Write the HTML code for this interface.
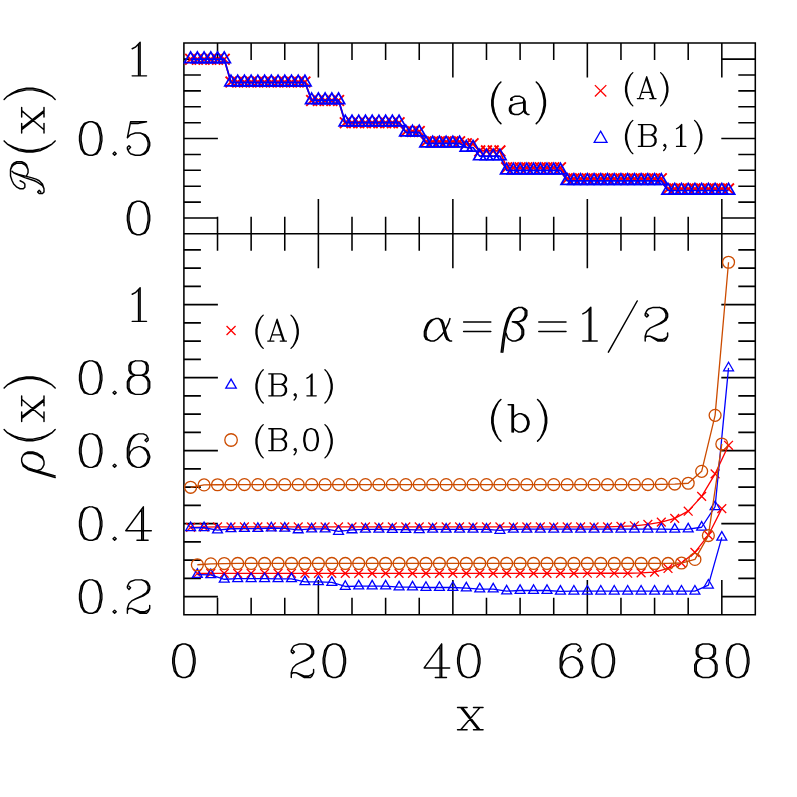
<!DOCTYPE html>
<html><head><meta charset="utf-8"><title>chart</title>
<style>html,body{margin:0;padding:0;background:#fff;font-family:"Liberation Sans",sans-serif}svg{display:block}</style></head>
<body>
<svg width="797" height="797" viewBox="0 0 797 797">
<rect width="797" height="797" fill="#fff"/>
<path d="M217.52 43 L217.52 60M217.52 216.7 L217.52 250.7M217.52 614.7 L217.52 597.7M251.14 43 L251.14 60M251.14 216.7 L251.14 250.7M251.14 614.7 L251.14 597.7M284.76 43 L284.76 60M284.76 216.7 L284.76 250.7M284.76 614.7 L284.76 597.7M318.38 43 L318.38 77.6M318.38 199.1 L318.38 268.3M318.38 614.7 L318.38 580.1M352 43 L352 60M352 216.7 L352 250.7M352 614.7 L352 597.7M385.62 43 L385.62 60M385.62 216.7 L385.62 250.7M385.62 614.7 L385.62 597.7M419.24 43 L419.24 60M419.24 216.7 L419.24 250.7M419.24 614.7 L419.24 597.7M452.86 43 L452.86 77.6M452.86 199.1 L452.86 268.3M452.86 614.7 L452.86 580.1M486.48 43 L486.48 60M486.48 216.7 L486.48 250.7M486.48 614.7 L486.48 597.7M520.1 43 L520.1 60M520.1 216.7 L520.1 250.7M520.1 614.7 L520.1 597.7M553.72 43 L553.72 60M553.72 216.7 L553.72 250.7M553.72 614.7 L553.72 597.7M587.34 43 L587.34 77.6M587.34 199.1 L587.34 268.3M587.34 614.7 L587.34 580.1M620.96 43 L620.96 60M620.96 216.7 L620.96 250.7M620.96 614.7 L620.96 597.7M654.58 43 L654.58 60M654.58 216.7 L654.58 250.7M654.58 614.7 L654.58 597.7M688.2 43 L688.2 60M688.2 216.7 L688.2 250.7M688.2 614.7 L688.2 597.7M721.82 43 L721.82 77.6M721.82 199.1 L721.82 268.3M721.82 614.7 L721.82 580.1M183.9 218 L217.9 218M755.3 218 L721.3 218M183.9 202.11 L200.9 202.11M755.3 202.11 L738.3 202.11M183.9 186.22 L200.9 186.22M755.3 186.22 L738.3 186.22M183.9 170.33 L200.9 170.33M755.3 170.33 L738.3 170.33M183.9 154.44 L200.9 154.44M755.3 154.44 L738.3 154.44M183.9 138.55 L217.9 138.55M755.3 138.55 L721.3 138.55M183.9 122.66 L200.9 122.66M755.3 122.66 L738.3 122.66M183.9 106.77 L200.9 106.77M755.3 106.77 L738.3 106.77M183.9 90.88 L200.9 90.88M755.3 90.88 L738.3 90.88M183.9 74.99 L200.9 74.99M755.3 74.99 L738.3 74.99M183.9 59.1 L217.9 59.1M755.3 59.1 L721.3 59.1M183.9 596.6 L217.9 596.6M755.3 596.6 L721.3 596.6M183.9 578.35 L200.9 578.35M755.3 578.35 L738.3 578.35M183.9 560.1 L200.9 560.1M755.3 560.1 L738.3 560.1M183.9 541.85 L200.9 541.85M755.3 541.85 L738.3 541.85M183.9 523.6 L217.9 523.6M755.3 523.6 L721.3 523.6M183.9 505.35 L200.9 505.35M755.3 505.35 L738.3 505.35M183.9 487.1 L200.9 487.1M755.3 487.1 L738.3 487.1M183.9 468.85 L200.9 468.85M755.3 468.85 L738.3 468.85M183.9 450.6 L217.9 450.6M755.3 450.6 L721.3 450.6M183.9 432.35 L200.9 432.35M755.3 432.35 L738.3 432.35M183.9 414.1 L200.9 414.1M755.3 414.1 L738.3 414.1M183.9 395.85 L200.9 395.85M755.3 395.85 L738.3 395.85M183.9 377.6 L217.9 377.6M755.3 377.6 L721.3 377.6M183.9 359.35 L200.9 359.35M755.3 359.35 L738.3 359.35M183.9 341.1 L200.9 341.1M755.3 341.1 L738.3 341.1M183.9 322.85 L200.9 322.85M755.3 322.85 L738.3 322.85M183.9 304.6 L217.9 304.6M755.3 304.6 L721.3 304.6M183.9 286.35 L200.9 286.35M755.3 286.35 L738.3 286.35M183.9 268.1 L200.9 268.1M755.3 268.1 L738.3 268.1M183.9 249.85 L200.9 249.85M755.3 249.85 L738.3 249.85" fill="none" stroke="#000" stroke-width="1.55"/>
<path d="M183.9 43.0 H755.3 V614.7 H183.9 Z M183.9 233.7 H755.3" fill="none" stroke="#000" stroke-width="1.55" stroke-linejoin="miter"/>
<g><path d="M190.62 59.2 L197.35 59.2 L204.07 59.2 L210.8 59.2 L217.52 59.2 L224.24 59.2 L230.97 82.05 L237.69 82.05 L244.42 82.05 L251.14 82.05 L257.86 82.05 L264.59 82.05 L271.31 82.05 L278.04 82.05 L284.76 82.05 L291.48 82.05 L298.21 82.05 L304.93 82.05 L311.66 100.45 L318.38 100.45 L325.1 100.45 L331.83 100.45 L338.55 100.45 L345.28 122.8 L352 122.8 L358.72 122.8 L365.45 122.8 L372.17 122.8 L378.9 122.8 L385.62 122.8 L392.34 122.8 L399.07 122.8 L405.79 131.5 L412.52 131.5 L419.24 131.5 L425.96 141.7 L432.69 141.7 L439.41 141.7 L446.14 141.7 L452.86 141.7 L459.58 141.7 L466.31 143.8 L473.03 143.8 L479.76 150.9 L486.48 150.9 L493.2 150.9 L499.93 150.9 L506.65 167.7 L513.38 167.7 L520.1 167.7 L526.82 167.7 L533.55 167.7 L540.27 167.7 L547 167.7 L553.72 167.7 L560.44 167.7 L567.17 178.7 L573.89 178.7 L580.62 178.7 L587.34 178.7 L594.06 178.7 L600.79 178.7 L607.51 178.7 L614.24 178.7 L620.96 178.7 L627.68 178.7 L634.41 178.7 L641.13 178.7 L647.86 178.7 L654.58 178.7 L661.3 178.7 L668.03 188.9 L674.75 188.9 L681.48 188.9 L688.2 188.9 L694.92 188.9 L701.65 188.9 L708.37 188.9 L715.1 188.9 L721.82 188.9 L728.54 188.9" fill="none" stroke="#ff0000" stroke-width="1.7" stroke-linejoin="round"/><path d="M185.22 53.8 L196.02 64.6 M185.22 64.6 L196.02 53.8" fill="none" stroke="#ff0000" stroke-width="1.9"/><path d="M191.95 53.8 L202.75 64.6 M191.95 64.6 L202.75 53.8" fill="none" stroke="#ff0000" stroke-width="1.9"/><path d="M198.67 53.8 L209.47 64.6 M198.67 64.6 L209.47 53.8" fill="none" stroke="#ff0000" stroke-width="1.9"/><path d="M205.4 53.8 L216.2 64.6 M205.4 64.6 L216.2 53.8" fill="none" stroke="#ff0000" stroke-width="1.9"/><path d="M212.12 53.8 L222.92 64.6 M212.12 64.6 L222.92 53.8" fill="none" stroke="#ff0000" stroke-width="1.9"/><path d="M218.84 53.8 L229.64 64.6 M218.84 64.6 L229.64 53.8" fill="none" stroke="#ff0000" stroke-width="1.9"/><path d="M225.57 76.65 L236.37 87.45 M225.57 87.45 L236.37 76.65" fill="none" stroke="#ff0000" stroke-width="1.9"/><path d="M232.29 76.65 L243.09 87.45 M232.29 87.45 L243.09 76.65" fill="none" stroke="#ff0000" stroke-width="1.9"/><path d="M239.02 76.65 L249.82 87.45 M239.02 87.45 L249.82 76.65" fill="none" stroke="#ff0000" stroke-width="1.9"/><path d="M245.74 76.65 L256.54 87.45 M245.74 87.45 L256.54 76.65" fill="none" stroke="#ff0000" stroke-width="1.9"/><path d="M252.46 76.65 L263.26 87.45 M252.46 87.45 L263.26 76.65" fill="none" stroke="#ff0000" stroke-width="1.9"/><path d="M259.19 76.65 L269.99 87.45 M259.19 87.45 L269.99 76.65" fill="none" stroke="#ff0000" stroke-width="1.9"/><path d="M265.91 76.65 L276.71 87.45 M265.91 87.45 L276.71 76.65" fill="none" stroke="#ff0000" stroke-width="1.9"/><path d="M272.64 76.65 L283.44 87.45 M272.64 87.45 L283.44 76.65" fill="none" stroke="#ff0000" stroke-width="1.9"/><path d="M279.36 76.65 L290.16 87.45 M279.36 87.45 L290.16 76.65" fill="none" stroke="#ff0000" stroke-width="1.9"/><path d="M286.08 76.65 L296.88 87.45 M286.08 87.45 L296.88 76.65" fill="none" stroke="#ff0000" stroke-width="1.9"/><path d="M292.81 76.65 L303.61 87.45 M292.81 87.45 L303.61 76.65" fill="none" stroke="#ff0000" stroke-width="1.9"/><path d="M299.53 76.65 L310.33 87.45 M299.53 87.45 L310.33 76.65" fill="none" stroke="#ff0000" stroke-width="1.9"/><path d="M306.26 95.05 L317.06 105.85 M306.26 105.85 L317.06 95.05" fill="none" stroke="#ff0000" stroke-width="1.9"/><path d="M312.98 95.05 L323.78 105.85 M312.98 105.85 L323.78 95.05" fill="none" stroke="#ff0000" stroke-width="1.9"/><path d="M319.7 95.05 L330.5 105.85 M319.7 105.85 L330.5 95.05" fill="none" stroke="#ff0000" stroke-width="1.9"/><path d="M326.43 95.05 L337.23 105.85 M326.43 105.85 L337.23 95.05" fill="none" stroke="#ff0000" stroke-width="1.9"/><path d="M333.15 95.05 L343.95 105.85 M333.15 105.85 L343.95 95.05" fill="none" stroke="#ff0000" stroke-width="1.9"/><path d="M339.88 117.4 L350.68 128.2 M339.88 128.2 L350.68 117.4" fill="none" stroke="#ff0000" stroke-width="1.9"/><path d="M346.6 117.4 L357.4 128.2 M346.6 128.2 L357.4 117.4" fill="none" stroke="#ff0000" stroke-width="1.9"/><path d="M353.32 117.4 L364.12 128.2 M353.32 128.2 L364.12 117.4" fill="none" stroke="#ff0000" stroke-width="1.9"/><path d="M360.05 117.4 L370.85 128.2 M360.05 128.2 L370.85 117.4" fill="none" stroke="#ff0000" stroke-width="1.9"/><path d="M366.77 117.4 L377.57 128.2 M366.77 128.2 L377.57 117.4" fill="none" stroke="#ff0000" stroke-width="1.9"/><path d="M373.5 117.4 L384.3 128.2 M373.5 128.2 L384.3 117.4" fill="none" stroke="#ff0000" stroke-width="1.9"/><path d="M380.22 117.4 L391.02 128.2 M380.22 128.2 L391.02 117.4" fill="none" stroke="#ff0000" stroke-width="1.9"/><path d="M386.94 117.4 L397.74 128.2 M386.94 128.2 L397.74 117.4" fill="none" stroke="#ff0000" stroke-width="1.9"/><path d="M393.67 117.4 L404.47 128.2 M393.67 128.2 L404.47 117.4" fill="none" stroke="#ff0000" stroke-width="1.9"/><path d="M400.39 126.1 L411.19 136.9 M400.39 136.9 L411.19 126.1" fill="none" stroke="#ff0000" stroke-width="1.9"/><path d="M407.12 126.1 L417.92 136.9 M407.12 136.9 L417.92 126.1" fill="none" stroke="#ff0000" stroke-width="1.9"/><path d="M413.84 126.1 L424.64 136.9 M413.84 136.9 L424.64 126.1" fill="none" stroke="#ff0000" stroke-width="1.9"/><path d="M420.56 136.3 L431.36 147.1 M420.56 147.1 L431.36 136.3" fill="none" stroke="#ff0000" stroke-width="1.9"/><path d="M427.29 136.3 L438.09 147.1 M427.29 147.1 L438.09 136.3" fill="none" stroke="#ff0000" stroke-width="1.9"/><path d="M434.01 136.3 L444.81 147.1 M434.01 147.1 L444.81 136.3" fill="none" stroke="#ff0000" stroke-width="1.9"/><path d="M440.74 136.3 L451.54 147.1 M440.74 147.1 L451.54 136.3" fill="none" stroke="#ff0000" stroke-width="1.9"/><path d="M447.46 136.3 L458.26 147.1 M447.46 147.1 L458.26 136.3" fill="none" stroke="#ff0000" stroke-width="1.9"/><path d="M454.18 136.3 L464.98 147.1 M454.18 147.1 L464.98 136.3" fill="none" stroke="#ff0000" stroke-width="1.9"/><path d="M460.91 138.4 L471.71 149.2 M460.91 149.2 L471.71 138.4" fill="none" stroke="#ff0000" stroke-width="1.9"/><path d="M467.63 138.4 L478.43 149.2 M467.63 149.2 L478.43 138.4" fill="none" stroke="#ff0000" stroke-width="1.9"/><path d="M474.36 145.5 L485.16 156.3 M474.36 156.3 L485.16 145.5" fill="none" stroke="#ff0000" stroke-width="1.9"/><path d="M481.08 145.5 L491.88 156.3 M481.08 156.3 L491.88 145.5" fill="none" stroke="#ff0000" stroke-width="1.9"/><path d="M487.8 145.5 L498.6 156.3 M487.8 156.3 L498.6 145.5" fill="none" stroke="#ff0000" stroke-width="1.9"/><path d="M494.53 145.5 L505.33 156.3 M494.53 156.3 L505.33 145.5" fill="none" stroke="#ff0000" stroke-width="1.9"/><path d="M501.25 162.3 L512.05 173.1 M501.25 173.1 L512.05 162.3" fill="none" stroke="#ff0000" stroke-width="1.9"/><path d="M507.98 162.3 L518.78 173.1 M507.98 173.1 L518.78 162.3" fill="none" stroke="#ff0000" stroke-width="1.9"/><path d="M514.7 162.3 L525.5 173.1 M514.7 173.1 L525.5 162.3" fill="none" stroke="#ff0000" stroke-width="1.9"/><path d="M521.42 162.3 L532.22 173.1 M521.42 173.1 L532.22 162.3" fill="none" stroke="#ff0000" stroke-width="1.9"/><path d="M528.15 162.3 L538.95 173.1 M528.15 173.1 L538.95 162.3" fill="none" stroke="#ff0000" stroke-width="1.9"/><path d="M534.87 162.3 L545.67 173.1 M534.87 173.1 L545.67 162.3" fill="none" stroke="#ff0000" stroke-width="1.9"/><path d="M541.6 162.3 L552.4 173.1 M541.6 173.1 L552.4 162.3" fill="none" stroke="#ff0000" stroke-width="1.9"/><path d="M548.32 162.3 L559.12 173.1 M548.32 173.1 L559.12 162.3" fill="none" stroke="#ff0000" stroke-width="1.9"/><path d="M555.04 162.3 L565.84 173.1 M555.04 173.1 L565.84 162.3" fill="none" stroke="#ff0000" stroke-width="1.9"/><path d="M561.77 173.3 L572.57 184.1 M561.77 184.1 L572.57 173.3" fill="none" stroke="#ff0000" stroke-width="1.9"/><path d="M568.49 173.3 L579.29 184.1 M568.49 184.1 L579.29 173.3" fill="none" stroke="#ff0000" stroke-width="1.9"/><path d="M575.22 173.3 L586.02 184.1 M575.22 184.1 L586.02 173.3" fill="none" stroke="#ff0000" stroke-width="1.9"/><path d="M581.94 173.3 L592.74 184.1 M581.94 184.1 L592.74 173.3" fill="none" stroke="#ff0000" stroke-width="1.9"/><path d="M588.66 173.3 L599.46 184.1 M588.66 184.1 L599.46 173.3" fill="none" stroke="#ff0000" stroke-width="1.9"/><path d="M595.39 173.3 L606.19 184.1 M595.39 184.1 L606.19 173.3" fill="none" stroke="#ff0000" stroke-width="1.9"/><path d="M602.11 173.3 L612.91 184.1 M602.11 184.1 L612.91 173.3" fill="none" stroke="#ff0000" stroke-width="1.9"/><path d="M608.84 173.3 L619.64 184.1 M608.84 184.1 L619.64 173.3" fill="none" stroke="#ff0000" stroke-width="1.9"/><path d="M615.56 173.3 L626.36 184.1 M615.56 184.1 L626.36 173.3" fill="none" stroke="#ff0000" stroke-width="1.9"/><path d="M622.28 173.3 L633.08 184.1 M622.28 184.1 L633.08 173.3" fill="none" stroke="#ff0000" stroke-width="1.9"/><path d="M629.01 173.3 L639.81 184.1 M629.01 184.1 L639.81 173.3" fill="none" stroke="#ff0000" stroke-width="1.9"/><path d="M635.73 173.3 L646.53 184.1 M635.73 184.1 L646.53 173.3" fill="none" stroke="#ff0000" stroke-width="1.9"/><path d="M642.46 173.3 L653.26 184.1 M642.46 184.1 L653.26 173.3" fill="none" stroke="#ff0000" stroke-width="1.9"/><path d="M649.18 173.3 L659.98 184.1 M649.18 184.1 L659.98 173.3" fill="none" stroke="#ff0000" stroke-width="1.9"/><path d="M655.9 173.3 L666.7 184.1 M655.9 184.1 L666.7 173.3" fill="none" stroke="#ff0000" stroke-width="1.9"/><path d="M662.63 183.5 L673.43 194.3 M662.63 194.3 L673.43 183.5" fill="none" stroke="#ff0000" stroke-width="1.9"/><path d="M669.35 183.5 L680.15 194.3 M669.35 194.3 L680.15 183.5" fill="none" stroke="#ff0000" stroke-width="1.9"/><path d="M676.08 183.5 L686.88 194.3 M676.08 194.3 L686.88 183.5" fill="none" stroke="#ff0000" stroke-width="1.9"/><path d="M682.8 183.5 L693.6 194.3 M682.8 194.3 L693.6 183.5" fill="none" stroke="#ff0000" stroke-width="1.9"/><path d="M689.52 183.5 L700.32 194.3 M689.52 194.3 L700.32 183.5" fill="none" stroke="#ff0000" stroke-width="1.9"/><path d="M696.25 183.5 L707.05 194.3 M696.25 194.3 L707.05 183.5" fill="none" stroke="#ff0000" stroke-width="1.9"/><path d="M702.97 183.5 L713.77 194.3 M702.97 194.3 L713.77 183.5" fill="none" stroke="#ff0000" stroke-width="1.9"/><path d="M709.7 183.5 L720.5 194.3 M709.7 194.3 L720.5 183.5" fill="none" stroke="#ff0000" stroke-width="1.9"/><path d="M716.42 183.5 L727.22 194.3 M716.42 194.3 L727.22 183.5" fill="none" stroke="#ff0000" stroke-width="1.9"/><path d="M723.14 183.5 L733.94 194.3 M723.14 194.3 L733.94 183.5" fill="none" stroke="#ff0000" stroke-width="1.9"/><path d="M190.62 59.1 L197.35 59.1 L204.07 59.1 L210.8 59.1 L217.52 59.1 L224.24 59.1 L230.97 82.3 L237.69 82.3 L244.42 82.3 L251.14 82.3 L257.86 82.3 L264.59 82.3 L271.31 82.3 L278.04 82.3 L284.76 82.3 L291.48 82.3 L298.21 82.3 L304.93 82.3 L311.66 100.15 L318.38 100.15 L325.1 100.15 L331.83 100.15 L338.55 100.15 L345.28 122.3 L352 122.3 L358.72 122.3 L365.45 122.3 L372.17 122.3 L378.9 122.3 L385.62 122.3 L392.34 122.3 L399.07 122.3 L405.79 132.4 L412.52 132.4 L419.24 132.4 L425.96 143.4 L432.69 143.4 L439.41 143.4 L446.14 143.4 L452.86 143.4 L459.58 143.4 L466.31 147.5 L473.03 147.5 L479.76 156.2 L486.48 156.2 L493.2 156.2 L499.93 156.2 L506.65 170.4 L513.38 170.4 L520.1 170.4 L526.82 170.4 L533.55 170.4 L540.27 170.4 L547 170.4 L553.72 170.4 L560.44 170.4 L567.17 180.9 L573.89 180.9 L580.62 180.9 L587.34 180.9 L594.06 180.9 L600.79 180.9 L607.51 180.9 L614.24 180.9 L620.96 180.9 L627.68 180.9 L634.41 180.9 L641.13 180.9 L647.86 180.9 L654.58 180.9 L661.3 180.9 L668.03 190.5 L674.75 190.5 L681.48 190.5 L688.2 190.5 L694.92 190.5 L701.65 190.5 L708.37 190.5 L715.1 190.5 L721.82 190.5 L728.54 190.5" fill="none" stroke="#0000ff" stroke-width="1.7" stroke-linejoin="round"/><path d="M190.62 52 L196.77 62.65 L184.48 62.65 Z" fill="none" stroke="#0000ff" stroke-width="1.7" stroke-linejoin="miter"/><path d="M197.35 52 L203.5 62.65 L191.2 62.65 Z" fill="none" stroke="#0000ff" stroke-width="1.7" stroke-linejoin="miter"/><path d="M204.07 52 L210.22 62.65 L197.92 62.65 Z" fill="none" stroke="#0000ff" stroke-width="1.7" stroke-linejoin="miter"/><path d="M210.8 52 L216.94 62.65 L204.65 62.65 Z" fill="none" stroke="#0000ff" stroke-width="1.7" stroke-linejoin="miter"/><path d="M217.52 52 L223.67 62.65 L211.37 62.65 Z" fill="none" stroke="#0000ff" stroke-width="1.7" stroke-linejoin="miter"/><path d="M224.24 52 L230.39 62.65 L218.1 62.65 Z" fill="none" stroke="#0000ff" stroke-width="1.7" stroke-linejoin="miter"/><path d="M230.97 75.2 L237.12 85.85 L224.82 85.85 Z" fill="none" stroke="#0000ff" stroke-width="1.7" stroke-linejoin="miter"/><path d="M237.69 75.2 L243.84 85.85 L231.54 85.85 Z" fill="none" stroke="#0000ff" stroke-width="1.7" stroke-linejoin="miter"/><path d="M244.42 75.2 L250.56 85.85 L238.27 85.85 Z" fill="none" stroke="#0000ff" stroke-width="1.7" stroke-linejoin="miter"/><path d="M251.14 75.2 L257.29 85.85 L244.99 85.85 Z" fill="none" stroke="#0000ff" stroke-width="1.7" stroke-linejoin="miter"/><path d="M257.86 75.2 L264.01 85.85 L251.72 85.85 Z" fill="none" stroke="#0000ff" stroke-width="1.7" stroke-linejoin="miter"/><path d="M264.59 75.2 L270.74 85.85 L258.44 85.85 Z" fill="none" stroke="#0000ff" stroke-width="1.7" stroke-linejoin="miter"/><path d="M271.31 75.2 L277.46 85.85 L265.16 85.85 Z" fill="none" stroke="#0000ff" stroke-width="1.7" stroke-linejoin="miter"/><path d="M278.04 75.2 L284.18 85.85 L271.89 85.85 Z" fill="none" stroke="#0000ff" stroke-width="1.7" stroke-linejoin="miter"/><path d="M284.76 75.2 L290.91 85.85 L278.61 85.85 Z" fill="none" stroke="#0000ff" stroke-width="1.7" stroke-linejoin="miter"/><path d="M291.48 75.2 L297.63 85.85 L285.34 85.85 Z" fill="none" stroke="#0000ff" stroke-width="1.7" stroke-linejoin="miter"/><path d="M298.21 75.2 L304.36 85.85 L292.06 85.85 Z" fill="none" stroke="#0000ff" stroke-width="1.7" stroke-linejoin="miter"/><path d="M304.93 75.2 L311.08 85.85 L298.78 85.85 Z" fill="none" stroke="#0000ff" stroke-width="1.7" stroke-linejoin="miter"/><path d="M311.66 93.05 L317.8 103.7 L305.51 103.7 Z" fill="none" stroke="#0000ff" stroke-width="1.7" stroke-linejoin="miter"/><path d="M318.38 93.05 L324.53 103.7 L312.23 103.7 Z" fill="none" stroke="#0000ff" stroke-width="1.7" stroke-linejoin="miter"/><path d="M325.1 93.05 L331.25 103.7 L318.96 103.7 Z" fill="none" stroke="#0000ff" stroke-width="1.7" stroke-linejoin="miter"/><path d="M331.83 93.05 L337.98 103.7 L325.68 103.7 Z" fill="none" stroke="#0000ff" stroke-width="1.7" stroke-linejoin="miter"/><path d="M338.55 93.05 L344.7 103.7 L332.4 103.7 Z" fill="none" stroke="#0000ff" stroke-width="1.7" stroke-linejoin="miter"/><path d="M345.28 115.2 L351.42 125.85 L339.13 125.85 Z" fill="none" stroke="#0000ff" stroke-width="1.7" stroke-linejoin="miter"/><path d="M352 115.2 L358.15 125.85 L345.85 125.85 Z" fill="none" stroke="#0000ff" stroke-width="1.7" stroke-linejoin="miter"/><path d="M358.72 115.2 L364.87 125.85 L352.58 125.85 Z" fill="none" stroke="#0000ff" stroke-width="1.7" stroke-linejoin="miter"/><path d="M365.45 115.2 L371.6 125.85 L359.3 125.85 Z" fill="none" stroke="#0000ff" stroke-width="1.7" stroke-linejoin="miter"/><path d="M372.17 115.2 L378.32 125.85 L366.02 125.85 Z" fill="none" stroke="#0000ff" stroke-width="1.7" stroke-linejoin="miter"/><path d="M378.9 115.2 L385.04 125.85 L372.75 125.85 Z" fill="none" stroke="#0000ff" stroke-width="1.7" stroke-linejoin="miter"/><path d="M385.62 115.2 L391.77 125.85 L379.47 125.85 Z" fill="none" stroke="#0000ff" stroke-width="1.7" stroke-linejoin="miter"/><path d="M392.34 115.2 L398.49 125.85 L386.2 125.85 Z" fill="none" stroke="#0000ff" stroke-width="1.7" stroke-linejoin="miter"/><path d="M399.07 115.2 L405.22 125.85 L392.92 125.85 Z" fill="none" stroke="#0000ff" stroke-width="1.7" stroke-linejoin="miter"/><path d="M405.79 125.3 L411.94 135.95 L399.64 135.95 Z" fill="none" stroke="#0000ff" stroke-width="1.7" stroke-linejoin="miter"/><path d="M412.52 125.3 L418.66 135.95 L406.37 135.95 Z" fill="none" stroke="#0000ff" stroke-width="1.7" stroke-linejoin="miter"/><path d="M419.24 125.3 L425.39 135.95 L413.09 135.95 Z" fill="none" stroke="#0000ff" stroke-width="1.7" stroke-linejoin="miter"/><path d="M425.96 136.3 L432.11 146.95 L419.82 146.95 Z" fill="none" stroke="#0000ff" stroke-width="1.7" stroke-linejoin="miter"/><path d="M432.69 136.3 L438.84 146.95 L426.54 146.95 Z" fill="none" stroke="#0000ff" stroke-width="1.7" stroke-linejoin="miter"/><path d="M439.41 136.3 L445.56 146.95 L433.26 146.95 Z" fill="none" stroke="#0000ff" stroke-width="1.7" stroke-linejoin="miter"/><path d="M446.14 136.3 L452.28 146.95 L439.99 146.95 Z" fill="none" stroke="#0000ff" stroke-width="1.7" stroke-linejoin="miter"/><path d="M452.86 136.3 L459.01 146.95 L446.71 146.95 Z" fill="none" stroke="#0000ff" stroke-width="1.7" stroke-linejoin="miter"/><path d="M459.58 136.3 L465.73 146.95 L453.44 146.95 Z" fill="none" stroke="#0000ff" stroke-width="1.7" stroke-linejoin="miter"/><path d="M466.31 140.4 L472.46 151.05 L460.16 151.05 Z" fill="none" stroke="#0000ff" stroke-width="1.7" stroke-linejoin="miter"/><path d="M473.03 140.4 L479.18 151.05 L466.88 151.05 Z" fill="none" stroke="#0000ff" stroke-width="1.7" stroke-linejoin="miter"/><path d="M479.76 149.1 L485.9 159.75 L473.61 159.75 Z" fill="none" stroke="#0000ff" stroke-width="1.7" stroke-linejoin="miter"/><path d="M486.48 149.1 L492.63 159.75 L480.33 159.75 Z" fill="none" stroke="#0000ff" stroke-width="1.7" stroke-linejoin="miter"/><path d="M493.2 149.1 L499.35 159.75 L487.06 159.75 Z" fill="none" stroke="#0000ff" stroke-width="1.7" stroke-linejoin="miter"/><path d="M499.93 149.1 L506.08 159.75 L493.78 159.75 Z" fill="none" stroke="#0000ff" stroke-width="1.7" stroke-linejoin="miter"/><path d="M506.65 163.3 L512.8 173.95 L500.5 173.95 Z" fill="none" stroke="#0000ff" stroke-width="1.7" stroke-linejoin="miter"/><path d="M513.38 163.3 L519.52 173.95 L507.23 173.95 Z" fill="none" stroke="#0000ff" stroke-width="1.7" stroke-linejoin="miter"/><path d="M520.1 163.3 L526.25 173.95 L513.95 173.95 Z" fill="none" stroke="#0000ff" stroke-width="1.7" stroke-linejoin="miter"/><path d="M526.82 163.3 L532.97 173.95 L520.68 173.95 Z" fill="none" stroke="#0000ff" stroke-width="1.7" stroke-linejoin="miter"/><path d="M533.55 163.3 L539.7 173.95 L527.4 173.95 Z" fill="none" stroke="#0000ff" stroke-width="1.7" stroke-linejoin="miter"/><path d="M540.27 163.3 L546.42 173.95 L534.12 173.95 Z" fill="none" stroke="#0000ff" stroke-width="1.7" stroke-linejoin="miter"/><path d="M547 163.3 L553.14 173.95 L540.85 173.95 Z" fill="none" stroke="#0000ff" stroke-width="1.7" stroke-linejoin="miter"/><path d="M553.72 163.3 L559.87 173.95 L547.57 173.95 Z" fill="none" stroke="#0000ff" stroke-width="1.7" stroke-linejoin="miter"/><path d="M560.44 163.3 L566.59 173.95 L554.3 173.95 Z" fill="none" stroke="#0000ff" stroke-width="1.7" stroke-linejoin="miter"/><path d="M567.17 173.8 L573.32 184.45 L561.02 184.45 Z" fill="none" stroke="#0000ff" stroke-width="1.7" stroke-linejoin="miter"/><path d="M573.89 173.8 L580.04 184.45 L567.74 184.45 Z" fill="none" stroke="#0000ff" stroke-width="1.7" stroke-linejoin="miter"/><path d="M580.62 173.8 L586.76 184.45 L574.47 184.45 Z" fill="none" stroke="#0000ff" stroke-width="1.7" stroke-linejoin="miter"/><path d="M587.34 173.8 L593.49 184.45 L581.19 184.45 Z" fill="none" stroke="#0000ff" stroke-width="1.7" stroke-linejoin="miter"/><path d="M594.06 173.8 L600.21 184.45 L587.92 184.45 Z" fill="none" stroke="#0000ff" stroke-width="1.7" stroke-linejoin="miter"/><path d="M600.79 173.8 L606.94 184.45 L594.64 184.45 Z" fill="none" stroke="#0000ff" stroke-width="1.7" stroke-linejoin="miter"/><path d="M607.51 173.8 L613.66 184.45 L601.36 184.45 Z" fill="none" stroke="#0000ff" stroke-width="1.7" stroke-linejoin="miter"/><path d="M614.24 173.8 L620.38 184.45 L608.09 184.45 Z" fill="none" stroke="#0000ff" stroke-width="1.7" stroke-linejoin="miter"/><path d="M620.96 173.8 L627.11 184.45 L614.81 184.45 Z" fill="none" stroke="#0000ff" stroke-width="1.7" stroke-linejoin="miter"/><path d="M627.68 173.8 L633.83 184.45 L621.54 184.45 Z" fill="none" stroke="#0000ff" stroke-width="1.7" stroke-linejoin="miter"/><path d="M634.41 173.8 L640.56 184.45 L628.26 184.45 Z" fill="none" stroke="#0000ff" stroke-width="1.7" stroke-linejoin="miter"/><path d="M641.13 173.8 L647.28 184.45 L634.98 184.45 Z" fill="none" stroke="#0000ff" stroke-width="1.7" stroke-linejoin="miter"/><path d="M647.86 173.8 L654 184.45 L641.71 184.45 Z" fill="none" stroke="#0000ff" stroke-width="1.7" stroke-linejoin="miter"/><path d="M654.58 173.8 L660.73 184.45 L648.43 184.45 Z" fill="none" stroke="#0000ff" stroke-width="1.7" stroke-linejoin="miter"/><path d="M661.3 173.8 L667.45 184.45 L655.16 184.45 Z" fill="none" stroke="#0000ff" stroke-width="1.7" stroke-linejoin="miter"/><path d="M668.03 183.4 L674.18 194.05 L661.88 194.05 Z" fill="none" stroke="#0000ff" stroke-width="1.7" stroke-linejoin="miter"/><path d="M674.75 183.4 L680.9 194.05 L668.6 194.05 Z" fill="none" stroke="#0000ff" stroke-width="1.7" stroke-linejoin="miter"/><path d="M681.48 183.4 L687.62 194.05 L675.33 194.05 Z" fill="none" stroke="#0000ff" stroke-width="1.7" stroke-linejoin="miter"/><path d="M688.2 183.4 L694.35 194.05 L682.05 194.05 Z" fill="none" stroke="#0000ff" stroke-width="1.7" stroke-linejoin="miter"/><path d="M694.92 183.4 L701.07 194.05 L688.78 194.05 Z" fill="none" stroke="#0000ff" stroke-width="1.7" stroke-linejoin="miter"/><path d="M701.65 183.4 L707.8 194.05 L695.5 194.05 Z" fill="none" stroke="#0000ff" stroke-width="1.7" stroke-linejoin="miter"/><path d="M708.37 183.4 L714.52 194.05 L702.22 194.05 Z" fill="none" stroke="#0000ff" stroke-width="1.7" stroke-linejoin="miter"/><path d="M715.1 183.4 L721.24 194.05 L708.95 194.05 Z" fill="none" stroke="#0000ff" stroke-width="1.7" stroke-linejoin="miter"/><path d="M721.82 183.4 L727.97 194.05 L715.67 194.05 Z" fill="none" stroke="#0000ff" stroke-width="1.7" stroke-linejoin="miter"/><path d="M728.54 183.4 L734.69 194.05 L722.4 194.05 Z" fill="none" stroke="#0000ff" stroke-width="1.7" stroke-linejoin="miter"/><path d="M190.62 527.43 L204.07 527.07 L217.52 526.96 L230.97 526.96 L244.42 526.96 L257.86 526.96 L271.31 526.96 L284.76 526.96 L298.21 526.96 L311.66 526.96 L325.1 526.96 L338.55 526.96 L352 526.96 L365.45 526.96 L378.9 526.96 L392.34 526.96 L405.79 526.96 L419.24 526.96 L432.69 526.96 L446.14 526.96 L459.58 526.96 L473.03 526.96 L486.48 526.96 L499.93 526.96 L513.38 526.96 L526.82 526.96 L540.27 526.96 L553.72 526.96 L567.17 526.96 L580.62 526.96 L594.06 526.96 L607.51 526.88 L620.96 526.37 L634.41 525.79 L647.86 524.33 L661.3 522.07 L674.75 518.38 L688.2 511.19 L701.65 496.41 L715.1 473.85 L728.54 445.27" fill="none" stroke="#ff0000" stroke-width="1.3" stroke-linejoin="round"/><path d="M186.22 523.03 L195.02 531.83 M186.22 531.83 L195.02 523.03" fill="none" stroke="#ff0000" stroke-width="1.3"/><path d="M199.67 522.67 L208.47 531.47 M199.67 531.47 L208.47 522.67" fill="none" stroke="#ff0000" stroke-width="1.3"/><path d="M213.12 522.56 L221.92 531.36 M213.12 531.36 L221.92 522.56" fill="none" stroke="#ff0000" stroke-width="1.3"/><path d="M226.57 522.56 L235.37 531.36 M226.57 531.36 L235.37 522.56" fill="none" stroke="#ff0000" stroke-width="1.3"/><path d="M240.02 522.56 L248.82 531.36 M240.02 531.36 L248.82 522.56" fill="none" stroke="#ff0000" stroke-width="1.3"/><path d="M253.46 522.56 L262.26 531.36 M253.46 531.36 L262.26 522.56" fill="none" stroke="#ff0000" stroke-width="1.3"/><path d="M266.91 522.56 L275.71 531.36 M266.91 531.36 L275.71 522.56" fill="none" stroke="#ff0000" stroke-width="1.3"/><path d="M280.36 522.56 L289.16 531.36 M280.36 531.36 L289.16 522.56" fill="none" stroke="#ff0000" stroke-width="1.3"/><path d="M293.81 522.56 L302.61 531.36 M293.81 531.36 L302.61 522.56" fill="none" stroke="#ff0000" stroke-width="1.3"/><path d="M307.26 522.56 L316.06 531.36 M307.26 531.36 L316.06 522.56" fill="none" stroke="#ff0000" stroke-width="1.3"/><path d="M320.7 522.56 L329.5 531.36 M320.7 531.36 L329.5 522.56" fill="none" stroke="#ff0000" stroke-width="1.3"/><path d="M334.15 522.56 L342.95 531.36 M334.15 531.36 L342.95 522.56" fill="none" stroke="#ff0000" stroke-width="1.3"/><path d="M347.6 522.56 L356.4 531.36 M347.6 531.36 L356.4 522.56" fill="none" stroke="#ff0000" stroke-width="1.3"/><path d="M361.05 522.56 L369.85 531.36 M361.05 531.36 L369.85 522.56" fill="none" stroke="#ff0000" stroke-width="1.3"/><path d="M374.5 522.56 L383.3 531.36 M374.5 531.36 L383.3 522.56" fill="none" stroke="#ff0000" stroke-width="1.3"/><path d="M387.94 522.56 L396.74 531.36 M387.94 531.36 L396.74 522.56" fill="none" stroke="#ff0000" stroke-width="1.3"/><path d="M401.39 522.56 L410.19 531.36 M401.39 531.36 L410.19 522.56" fill="none" stroke="#ff0000" stroke-width="1.3"/><path d="M414.84 522.56 L423.64 531.36 M414.84 531.36 L423.64 522.56" fill="none" stroke="#ff0000" stroke-width="1.3"/><path d="M428.29 522.56 L437.09 531.36 M428.29 531.36 L437.09 522.56" fill="none" stroke="#ff0000" stroke-width="1.3"/><path d="M441.74 522.56 L450.54 531.36 M441.74 531.36 L450.54 522.56" fill="none" stroke="#ff0000" stroke-width="1.3"/><path d="M455.18 522.56 L463.98 531.36 M455.18 531.36 L463.98 522.56" fill="none" stroke="#ff0000" stroke-width="1.3"/><path d="M468.63 522.56 L477.43 531.36 M468.63 531.36 L477.43 522.56" fill="none" stroke="#ff0000" stroke-width="1.3"/><path d="M482.08 522.56 L490.88 531.36 M482.08 531.36 L490.88 522.56" fill="none" stroke="#ff0000" stroke-width="1.3"/><path d="M495.53 522.56 L504.33 531.36 M495.53 531.36 L504.33 522.56" fill="none" stroke="#ff0000" stroke-width="1.3"/><path d="M508.98 522.56 L517.78 531.36 M508.98 531.36 L517.78 522.56" fill="none" stroke="#ff0000" stroke-width="1.3"/><path d="M522.42 522.56 L531.22 531.36 M522.42 531.36 L531.22 522.56" fill="none" stroke="#ff0000" stroke-width="1.3"/><path d="M535.87 522.56 L544.67 531.36 M535.87 531.36 L544.67 522.56" fill="none" stroke="#ff0000" stroke-width="1.3"/><path d="M549.32 522.56 L558.12 531.36 M549.32 531.36 L558.12 522.56" fill="none" stroke="#ff0000" stroke-width="1.3"/><path d="M562.77 522.56 L571.57 531.36 M562.77 531.36 L571.57 522.56" fill="none" stroke="#ff0000" stroke-width="1.3"/><path d="M576.22 522.56 L585.02 531.36 M576.22 531.36 L585.02 522.56" fill="none" stroke="#ff0000" stroke-width="1.3"/><path d="M589.66 522.56 L598.46 531.36 M589.66 531.36 L598.46 522.56" fill="none" stroke="#ff0000" stroke-width="1.3"/><path d="M603.11 522.49 L611.91 531.28 M603.11 531.28 L611.91 522.49" fill="none" stroke="#ff0000" stroke-width="1.3"/><path d="M616.56 521.97 L625.36 530.77 M616.56 530.77 L625.36 521.97" fill="none" stroke="#ff0000" stroke-width="1.3"/><path d="M630.01 521.39 L638.81 530.19 M630.01 530.19 L638.81 521.39" fill="none" stroke="#ff0000" stroke-width="1.3"/><path d="M643.46 519.93 L652.26 528.73 M643.46 528.73 L652.26 519.93" fill="none" stroke="#ff0000" stroke-width="1.3"/><path d="M656.9 517.67 L665.7 526.47 M656.9 526.47 L665.7 517.67" fill="none" stroke="#ff0000" stroke-width="1.3"/><path d="M670.35 513.98 L679.15 522.78 M670.35 522.78 L679.15 513.98" fill="none" stroke="#ff0000" stroke-width="1.3"/><path d="M683.8 506.79 L692.6 515.59 M683.8 515.59 L692.6 506.79" fill="none" stroke="#ff0000" stroke-width="1.3"/><path d="M697.25 492.01 L706.05 500.81 M697.25 500.81 L706.05 492.01" fill="none" stroke="#ff0000" stroke-width="1.3"/><path d="M710.7 469.45 L719.5 478.25 M710.7 478.25 L719.5 469.45" fill="none" stroke="#ff0000" stroke-width="1.3"/><path d="M724.14 440.87 L732.94 449.67 M724.14 449.67 L732.94 440.87" fill="none" stroke="#ff0000" stroke-width="1.3"/><path d="M197.35 573.5 L210.8 573.39 L224.24 573.39 L237.69 573.39 L251.14 573.39 L264.59 573.39 L278.04 573.39 L291.48 573.39 L304.93 573.39 L318.38 573.39 L331.83 573.39 L345.28 573.39 L358.72 573.39 L372.17 573.39 L385.62 573.39 L399.07 573.39 L412.52 573.39 L425.96 573.39 L439.41 573.39 L452.86 573.39 L466.31 573.39 L479.76 573.39 L493.2 573.39 L506.65 573.39 L520.1 573.39 L533.55 573.39 L547 573.39 L560.44 573.39 L573.89 573.39 L587.34 573.24 L600.79 573.24 L614.24 573.24 L627.68 573.24 L641.13 572.88 L654.58 572.04 L668.03 568.46 L681.48 563.02 L694.92 552.36 L708.37 535.17 L721.82 508.63" fill="none" stroke="#ff0000" stroke-width="1.3" stroke-linejoin="round"/><path d="M192.95 569.1 L201.75 577.9 M192.95 577.9 L201.75 569.1" fill="none" stroke="#ff0000" stroke-width="1.3"/><path d="M206.4 568.99 L215.2 577.79 M206.4 577.79 L215.2 568.99" fill="none" stroke="#ff0000" stroke-width="1.3"/><path d="M219.84 568.99 L228.64 577.79 M219.84 577.79 L228.64 568.99" fill="none" stroke="#ff0000" stroke-width="1.3"/><path d="M233.29 568.99 L242.09 577.79 M233.29 577.79 L242.09 568.99" fill="none" stroke="#ff0000" stroke-width="1.3"/><path d="M246.74 568.99 L255.54 577.79 M246.74 577.79 L255.54 568.99" fill="none" stroke="#ff0000" stroke-width="1.3"/><path d="M260.19 568.99 L268.99 577.79 M260.19 577.79 L268.99 568.99" fill="none" stroke="#ff0000" stroke-width="1.3"/><path d="M273.64 568.99 L282.44 577.79 M273.64 577.79 L282.44 568.99" fill="none" stroke="#ff0000" stroke-width="1.3"/><path d="M287.08 568.99 L295.88 577.79 M287.08 577.79 L295.88 568.99" fill="none" stroke="#ff0000" stroke-width="1.3"/><path d="M300.53 568.99 L309.33 577.79 M300.53 577.79 L309.33 568.99" fill="none" stroke="#ff0000" stroke-width="1.3"/><path d="M313.98 568.99 L322.78 577.79 M313.98 577.79 L322.78 568.99" fill="none" stroke="#ff0000" stroke-width="1.3"/><path d="M327.43 568.99 L336.23 577.79 M327.43 577.79 L336.23 568.99" fill="none" stroke="#ff0000" stroke-width="1.3"/><path d="M340.88 568.99 L349.68 577.79 M340.88 577.79 L349.68 568.99" fill="none" stroke="#ff0000" stroke-width="1.3"/><path d="M354.32 568.99 L363.12 577.79 M354.32 577.79 L363.12 568.99" fill="none" stroke="#ff0000" stroke-width="1.3"/><path d="M367.77 568.99 L376.57 577.79 M367.77 577.79 L376.57 568.99" fill="none" stroke="#ff0000" stroke-width="1.3"/><path d="M381.22 568.99 L390.02 577.79 M381.22 577.79 L390.02 568.99" fill="none" stroke="#ff0000" stroke-width="1.3"/><path d="M394.67 568.99 L403.47 577.79 M394.67 577.79 L403.47 568.99" fill="none" stroke="#ff0000" stroke-width="1.3"/><path d="M408.12 568.99 L416.92 577.79 M408.12 577.79 L416.92 568.99" fill="none" stroke="#ff0000" stroke-width="1.3"/><path d="M421.56 568.99 L430.36 577.79 M421.56 577.79 L430.36 568.99" fill="none" stroke="#ff0000" stroke-width="1.3"/><path d="M435.01 568.99 L443.81 577.79 M435.01 577.79 L443.81 568.99" fill="none" stroke="#ff0000" stroke-width="1.3"/><path d="M448.46 568.99 L457.26 577.79 M448.46 577.79 L457.26 568.99" fill="none" stroke="#ff0000" stroke-width="1.3"/><path d="M461.91 568.99 L470.71 577.79 M461.91 577.79 L470.71 568.99" fill="none" stroke="#ff0000" stroke-width="1.3"/><path d="M475.36 568.99 L484.16 577.79 M475.36 577.79 L484.16 568.99" fill="none" stroke="#ff0000" stroke-width="1.3"/><path d="M488.8 568.99 L497.6 577.79 M488.8 577.79 L497.6 568.99" fill="none" stroke="#ff0000" stroke-width="1.3"/><path d="M502.25 568.99 L511.05 577.79 M502.25 577.79 L511.05 568.99" fill="none" stroke="#ff0000" stroke-width="1.3"/><path d="M515.7 568.99 L524.5 577.79 M515.7 577.79 L524.5 568.99" fill="none" stroke="#ff0000" stroke-width="1.3"/><path d="M529.15 568.99 L537.95 577.79 M529.15 577.79 L537.95 568.99" fill="none" stroke="#ff0000" stroke-width="1.3"/><path d="M542.6 568.99 L551.4 577.79 M542.6 577.79 L551.4 568.99" fill="none" stroke="#ff0000" stroke-width="1.3"/><path d="M556.04 568.99 L564.84 577.79 M556.04 577.79 L564.84 568.99" fill="none" stroke="#ff0000" stroke-width="1.3"/><path d="M569.49 568.99 L578.29 577.79 M569.49 577.79 L578.29 568.99" fill="none" stroke="#ff0000" stroke-width="1.3"/><path d="M582.94 568.84 L591.74 577.64 M582.94 577.64 L591.74 568.84" fill="none" stroke="#ff0000" stroke-width="1.3"/><path d="M596.39 568.84 L605.19 577.64 M596.39 577.64 L605.19 568.84" fill="none" stroke="#ff0000" stroke-width="1.3"/><path d="M609.84 568.84 L618.64 577.64 M609.84 577.64 L618.64 568.84" fill="none" stroke="#ff0000" stroke-width="1.3"/><path d="M623.28 568.84 L632.08 577.64 M623.28 577.64 L632.08 568.84" fill="none" stroke="#ff0000" stroke-width="1.3"/><path d="M636.73 568.48 L645.53 577.27 M636.73 577.27 L645.53 568.48" fill="none" stroke="#ff0000" stroke-width="1.3"/><path d="M650.18 567.64 L658.98 576.44 M650.18 576.44 L658.98 567.64" fill="none" stroke="#ff0000" stroke-width="1.3"/><path d="M663.63 564.06 L672.43 572.86 M663.63 572.86 L672.43 564.06" fill="none" stroke="#ff0000" stroke-width="1.3"/><path d="M677.08 558.62 L685.88 567.42 M677.08 567.42 L685.88 558.62" fill="none" stroke="#ff0000" stroke-width="1.3"/><path d="M690.52 547.96 L699.32 556.76 M690.52 556.76 L699.32 547.96" fill="none" stroke="#ff0000" stroke-width="1.3"/><path d="M703.97 530.77 L712.77 539.57 M703.97 539.57 L712.77 530.77" fill="none" stroke="#ff0000" stroke-width="1.3"/><path d="M717.42 504.24 L726.22 513.03 M717.42 513.03 L726.22 504.24" fill="none" stroke="#ff0000" stroke-width="1.3"/><path d="M190.62 527.76 L204.07 527.76 L217.52 530.06 L230.97 528.75 L244.42 528.53 L257.86 528.53 L271.31 527.98 L284.76 528.35 L298.21 529.88 L311.66 528.97 L325.1 528.97 L338.55 531.45 L352 529.88 L365.45 529.37 L378.9 529.37 L392.34 529.62 L405.79 529.62 L419.24 529.81 L432.69 529.37 L446.14 529.37 L459.58 529.37 L473.03 529.37 L486.48 529.37 L499.93 530.43 L513.38 529.37 L526.82 529.18 L540.27 529.18 L553.72 529.18 L567.17 529.18 L580.62 529.18 L594.06 529.18 L607.51 529.18 L620.96 529.18 L634.41 529.18 L647.86 529.18 L661.3 529.18 L674.75 529.37 L688.2 529.08 L701.65 527.25 L715.1 506.7 L728.54 367.93" fill="none" stroke="#0000ff" stroke-width="1.3" stroke-linejoin="round"/><path d="M190.62 522.06 L195.56 530.61 L185.69 530.61 Z" fill="none" stroke="#0000ff" stroke-width="1.3" stroke-linejoin="miter"/><path d="M204.07 522.06 L209.01 530.61 L199.14 530.61 Z" fill="none" stroke="#0000ff" stroke-width="1.3" stroke-linejoin="miter"/><path d="M217.52 524.36 L222.46 532.91 L212.58 532.91 Z" fill="none" stroke="#0000ff" stroke-width="1.3" stroke-linejoin="miter"/><path d="M230.97 523.05 L235.9 531.6 L226.03 531.6 Z" fill="none" stroke="#0000ff" stroke-width="1.3" stroke-linejoin="miter"/><path d="M244.42 522.83 L249.35 531.38 L239.48 531.38 Z" fill="none" stroke="#0000ff" stroke-width="1.3" stroke-linejoin="miter"/><path d="M257.86 522.83 L262.8 531.38 L252.93 531.38 Z" fill="none" stroke="#0000ff" stroke-width="1.3" stroke-linejoin="miter"/><path d="M271.31 522.28 L276.25 530.83 L266.38 530.83 Z" fill="none" stroke="#0000ff" stroke-width="1.3" stroke-linejoin="miter"/><path d="M284.76 522.64 L289.7 531.2 L279.82 531.2 Z" fill="none" stroke="#0000ff" stroke-width="1.3" stroke-linejoin="miter"/><path d="M298.21 524.18 L303.14 532.73 L293.27 532.73 Z" fill="none" stroke="#0000ff" stroke-width="1.3" stroke-linejoin="miter"/><path d="M311.66 523.27 L316.59 531.82 L306.72 531.82 Z" fill="none" stroke="#0000ff" stroke-width="1.3" stroke-linejoin="miter"/><path d="M325.1 523.27 L330.04 531.82 L320.17 531.82 Z" fill="none" stroke="#0000ff" stroke-width="1.3" stroke-linejoin="miter"/><path d="M338.55 525.75 L343.49 534.3 L333.62 534.3 Z" fill="none" stroke="#0000ff" stroke-width="1.3" stroke-linejoin="miter"/><path d="M352 524.18 L356.94 532.73 L347.06 532.73 Z" fill="none" stroke="#0000ff" stroke-width="1.3" stroke-linejoin="miter"/><path d="M365.45 523.67 L370.38 532.22 L360.51 532.22 Z" fill="none" stroke="#0000ff" stroke-width="1.3" stroke-linejoin="miter"/><path d="M378.9 523.67 L383.83 532.22 L373.96 532.22 Z" fill="none" stroke="#0000ff" stroke-width="1.3" stroke-linejoin="miter"/><path d="M392.34 523.92 L397.28 532.47 L387.41 532.47 Z" fill="none" stroke="#0000ff" stroke-width="1.3" stroke-linejoin="miter"/><path d="M405.79 523.92 L410.73 532.47 L400.86 532.47 Z" fill="none" stroke="#0000ff" stroke-width="1.3" stroke-linejoin="miter"/><path d="M419.24 524.11 L424.18 532.66 L414.3 532.66 Z" fill="none" stroke="#0000ff" stroke-width="1.3" stroke-linejoin="miter"/><path d="M432.69 523.67 L437.62 532.22 L427.75 532.22 Z" fill="none" stroke="#0000ff" stroke-width="1.3" stroke-linejoin="miter"/><path d="M446.14 523.67 L451.07 532.22 L441.2 532.22 Z" fill="none" stroke="#0000ff" stroke-width="1.3" stroke-linejoin="miter"/><path d="M459.58 523.67 L464.52 532.22 L454.65 532.22 Z" fill="none" stroke="#0000ff" stroke-width="1.3" stroke-linejoin="miter"/><path d="M473.03 523.67 L477.97 532.22 L468.1 532.22 Z" fill="none" stroke="#0000ff" stroke-width="1.3" stroke-linejoin="miter"/><path d="M486.48 523.67 L491.42 532.22 L481.54 532.22 Z" fill="none" stroke="#0000ff" stroke-width="1.3" stroke-linejoin="miter"/><path d="M499.93 524.73 L504.86 533.28 L494.99 533.28 Z" fill="none" stroke="#0000ff" stroke-width="1.3" stroke-linejoin="miter"/><path d="M513.38 523.67 L518.31 532.22 L508.44 532.22 Z" fill="none" stroke="#0000ff" stroke-width="1.3" stroke-linejoin="miter"/><path d="M526.82 523.48 L531.76 532.03 L521.89 532.03 Z" fill="none" stroke="#0000ff" stroke-width="1.3" stroke-linejoin="miter"/><path d="M540.27 523.48 L545.21 532.03 L535.34 532.03 Z" fill="none" stroke="#0000ff" stroke-width="1.3" stroke-linejoin="miter"/><path d="M553.72 523.48 L558.66 532.03 L548.78 532.03 Z" fill="none" stroke="#0000ff" stroke-width="1.3" stroke-linejoin="miter"/><path d="M567.17 523.48 L572.1 532.03 L562.23 532.03 Z" fill="none" stroke="#0000ff" stroke-width="1.3" stroke-linejoin="miter"/><path d="M580.62 523.48 L585.55 532.03 L575.68 532.03 Z" fill="none" stroke="#0000ff" stroke-width="1.3" stroke-linejoin="miter"/><path d="M594.06 523.48 L599 532.03 L589.13 532.03 Z" fill="none" stroke="#0000ff" stroke-width="1.3" stroke-linejoin="miter"/><path d="M607.51 523.48 L612.45 532.03 L602.58 532.03 Z" fill="none" stroke="#0000ff" stroke-width="1.3" stroke-linejoin="miter"/><path d="M620.96 523.48 L625.9 532.03 L616.02 532.03 Z" fill="none" stroke="#0000ff" stroke-width="1.3" stroke-linejoin="miter"/><path d="M634.41 523.48 L639.34 532.03 L629.47 532.03 Z" fill="none" stroke="#0000ff" stroke-width="1.3" stroke-linejoin="miter"/><path d="M647.86 523.48 L652.79 532.03 L642.92 532.03 Z" fill="none" stroke="#0000ff" stroke-width="1.3" stroke-linejoin="miter"/><path d="M661.3 523.48 L666.24 532.03 L656.37 532.03 Z" fill="none" stroke="#0000ff" stroke-width="1.3" stroke-linejoin="miter"/><path d="M674.75 523.67 L679.69 532.22 L669.82 532.22 Z" fill="none" stroke="#0000ff" stroke-width="1.3" stroke-linejoin="miter"/><path d="M688.2 523.38 L693.14 531.93 L683.26 531.93 Z" fill="none" stroke="#0000ff" stroke-width="1.3" stroke-linejoin="miter"/><path d="M701.65 521.55 L706.58 530.1 L696.71 530.1 Z" fill="none" stroke="#0000ff" stroke-width="1.3" stroke-linejoin="miter"/><path d="M715.1 501 L720.03 509.55 L710.16 509.55 Z" fill="none" stroke="#0000ff" stroke-width="1.3" stroke-linejoin="miter"/><path d="M728.54 362.23 L733.48 370.78 L723.61 370.78 Z" fill="none" stroke="#0000ff" stroke-width="1.3" stroke-linejoin="miter"/><path d="M197.35 574.55 L210.8 574.85 L224.24 579.26 L237.69 578.72 L251.14 578.72 L264.59 578.72 L278.04 578.86 L291.48 578.86 L304.93 581.85 L318.38 581.85 L331.83 582.47 L345.28 586.49 L358.72 586.09 L372.17 586.09 L385.62 586.09 L399.07 587.07 L412.52 587.07 L425.96 587.48 L439.41 587.48 L452.86 587.48 L466.31 588.1 L479.76 589.08 L493.2 589.08 L506.65 591.09 L520.1 590.5 L533.55 590.5 L547 590.5 L560.44 591.31 L573.89 591.2 L587.34 591.2 L600.79 591.2 L614.24 591.2 L627.68 591.2 L641.13 591.2 L654.58 591.2 L668.03 591.2 L681.48 591.2 L694.92 591.2 L708.37 585.18 L721.82 537.36" fill="none" stroke="#0000ff" stroke-width="1.3" stroke-linejoin="round"/><path d="M197.35 568.85 L202.28 577.4 L192.41 577.4 Z" fill="none" stroke="#0000ff" stroke-width="1.3" stroke-linejoin="miter"/><path d="M210.8 569.15 L215.73 577.7 L205.86 577.7 Z" fill="none" stroke="#0000ff" stroke-width="1.3" stroke-linejoin="miter"/><path d="M224.24 573.56 L229.18 582.11 L219.31 582.11 Z" fill="none" stroke="#0000ff" stroke-width="1.3" stroke-linejoin="miter"/><path d="M237.69 573.01 L242.63 581.57 L232.76 581.57 Z" fill="none" stroke="#0000ff" stroke-width="1.3" stroke-linejoin="miter"/><path d="M251.14 573.01 L256.08 581.57 L246.2 581.57 Z" fill="none" stroke="#0000ff" stroke-width="1.3" stroke-linejoin="miter"/><path d="M264.59 573.01 L269.52 581.57 L259.65 581.57 Z" fill="none" stroke="#0000ff" stroke-width="1.3" stroke-linejoin="miter"/><path d="M278.04 573.16 L282.97 581.71 L273.1 581.71 Z" fill="none" stroke="#0000ff" stroke-width="1.3" stroke-linejoin="miter"/><path d="M291.48 573.16 L296.42 581.71 L286.55 581.71 Z" fill="none" stroke="#0000ff" stroke-width="1.3" stroke-linejoin="miter"/><path d="M304.93 576.15 L309.87 584.7 L300 584.7 Z" fill="none" stroke="#0000ff" stroke-width="1.3" stroke-linejoin="miter"/><path d="M318.38 576.15 L323.32 584.7 L313.44 584.7 Z" fill="none" stroke="#0000ff" stroke-width="1.3" stroke-linejoin="miter"/><path d="M331.83 576.77 L336.76 585.32 L326.89 585.32 Z" fill="none" stroke="#0000ff" stroke-width="1.3" stroke-linejoin="miter"/><path d="M345.28 580.79 L350.21 589.34 L340.34 589.34 Z" fill="none" stroke="#0000ff" stroke-width="1.3" stroke-linejoin="miter"/><path d="M358.72 580.39 L363.66 588.94 L353.79 588.94 Z" fill="none" stroke="#0000ff" stroke-width="1.3" stroke-linejoin="miter"/><path d="M372.17 580.39 L377.11 588.94 L367.24 588.94 Z" fill="none" stroke="#0000ff" stroke-width="1.3" stroke-linejoin="miter"/><path d="M385.62 580.39 L390.56 588.94 L380.68 588.94 Z" fill="none" stroke="#0000ff" stroke-width="1.3" stroke-linejoin="miter"/><path d="M399.07 581.37 L404 589.92 L394.13 589.92 Z" fill="none" stroke="#0000ff" stroke-width="1.3" stroke-linejoin="miter"/><path d="M412.52 581.37 L417.45 589.92 L407.58 589.92 Z" fill="none" stroke="#0000ff" stroke-width="1.3" stroke-linejoin="miter"/><path d="M425.96 581.77 L430.9 590.33 L421.03 590.33 Z" fill="none" stroke="#0000ff" stroke-width="1.3" stroke-linejoin="miter"/><path d="M439.41 581.77 L444.35 590.33 L434.48 590.33 Z" fill="none" stroke="#0000ff" stroke-width="1.3" stroke-linejoin="miter"/><path d="M452.86 581.77 L457.8 590.33 L447.92 590.33 Z" fill="none" stroke="#0000ff" stroke-width="1.3" stroke-linejoin="miter"/><path d="M466.31 582.4 L471.24 590.95 L461.37 590.95 Z" fill="none" stroke="#0000ff" stroke-width="1.3" stroke-linejoin="miter"/><path d="M479.76 583.38 L484.69 591.93 L474.82 591.93 Z" fill="none" stroke="#0000ff" stroke-width="1.3" stroke-linejoin="miter"/><path d="M493.2 583.38 L498.14 591.93 L488.27 591.93 Z" fill="none" stroke="#0000ff" stroke-width="1.3" stroke-linejoin="miter"/><path d="M506.65 585.39 L511.59 593.94 L501.72 593.94 Z" fill="none" stroke="#0000ff" stroke-width="1.3" stroke-linejoin="miter"/><path d="M520.1 584.8 L525.04 593.35 L515.16 593.35 Z" fill="none" stroke="#0000ff" stroke-width="1.3" stroke-linejoin="miter"/><path d="M533.55 584.8 L538.48 593.35 L528.61 593.35 Z" fill="none" stroke="#0000ff" stroke-width="1.3" stroke-linejoin="miter"/><path d="M547 584.8 L551.93 593.35 L542.06 593.35 Z" fill="none" stroke="#0000ff" stroke-width="1.3" stroke-linejoin="miter"/><path d="M560.44 585.61 L565.38 594.16 L555.51 594.16 Z" fill="none" stroke="#0000ff" stroke-width="1.3" stroke-linejoin="miter"/><path d="M573.89 585.5 L578.83 594.05 L568.96 594.05 Z" fill="none" stroke="#0000ff" stroke-width="1.3" stroke-linejoin="miter"/><path d="M587.34 585.5 L592.28 594.05 L582.4 594.05 Z" fill="none" stroke="#0000ff" stroke-width="1.3" stroke-linejoin="miter"/><path d="M600.79 585.5 L605.72 594.05 L595.85 594.05 Z" fill="none" stroke="#0000ff" stroke-width="1.3" stroke-linejoin="miter"/><path d="M614.24 585.5 L619.17 594.05 L609.3 594.05 Z" fill="none" stroke="#0000ff" stroke-width="1.3" stroke-linejoin="miter"/><path d="M627.68 585.5 L632.62 594.05 L622.75 594.05 Z" fill="none" stroke="#0000ff" stroke-width="1.3" stroke-linejoin="miter"/><path d="M641.13 585.5 L646.07 594.05 L636.2 594.05 Z" fill="none" stroke="#0000ff" stroke-width="1.3" stroke-linejoin="miter"/><path d="M654.58 585.5 L659.52 594.05 L649.64 594.05 Z" fill="none" stroke="#0000ff" stroke-width="1.3" stroke-linejoin="miter"/><path d="M668.03 585.5 L672.96 594.05 L663.09 594.05 Z" fill="none" stroke="#0000ff" stroke-width="1.3" stroke-linejoin="miter"/><path d="M681.48 585.5 L686.41 594.05 L676.54 594.05 Z" fill="none" stroke="#0000ff" stroke-width="1.3" stroke-linejoin="miter"/><path d="M694.92 585.5 L699.86 594.05 L689.99 594.05 Z" fill="none" stroke="#0000ff" stroke-width="1.3" stroke-linejoin="miter"/><path d="M708.37 579.48 L713.31 588.03 L703.44 588.03 Z" fill="none" stroke="#0000ff" stroke-width="1.3" stroke-linejoin="miter"/><path d="M721.82 531.66 L726.76 540.21 L716.88 540.21 Z" fill="none" stroke="#0000ff" stroke-width="1.3" stroke-linejoin="miter"/><path d="M190.62 487.28 L204.07 484.91 L217.52 484.73 L230.97 484.55 L244.42 484.55 L257.86 484.55 L271.31 484.55 L284.76 484.55 L298.21 484.55 L311.66 484.55 L325.1 484.55 L338.55 484.55 L352 484.55 L365.45 484.55 L378.9 484.55 L392.34 484.55 L405.79 484.55 L419.24 484.55 L432.69 484.55 L446.14 484.55 L459.58 484.55 L473.03 484.55 L486.48 484.55 L499.93 484.55 L513.38 484.55 L526.82 484.55 L540.27 484.55 L553.72 484.55 L567.17 484.55 L580.62 484.55 L594.06 484.55 L607.51 484.55 L620.96 484.55 L634.41 484.55 L647.86 484.55 L661.3 484.36 L674.75 484.07 L688.2 483.27 L701.65 471.33 L715.1 415.34 L728.54 262.26" fill="none" stroke="#cc4c00" stroke-width="1.3" stroke-linejoin="round"/><circle cx="190.62" cy="487.28" r="5.95" fill="none" stroke="#cc4c00" stroke-width="1.3"/><circle cx="204.07" cy="484.91" r="5.95" fill="none" stroke="#cc4c00" stroke-width="1.3"/><circle cx="217.52" cy="484.73" r="5.95" fill="none" stroke="#cc4c00" stroke-width="1.3"/><circle cx="230.97" cy="484.55" r="5.95" fill="none" stroke="#cc4c00" stroke-width="1.3"/><circle cx="244.42" cy="484.55" r="5.95" fill="none" stroke="#cc4c00" stroke-width="1.3"/><circle cx="257.86" cy="484.55" r="5.95" fill="none" stroke="#cc4c00" stroke-width="1.3"/><circle cx="271.31" cy="484.55" r="5.95" fill="none" stroke="#cc4c00" stroke-width="1.3"/><circle cx="284.76" cy="484.55" r="5.95" fill="none" stroke="#cc4c00" stroke-width="1.3"/><circle cx="298.21" cy="484.55" r="5.95" fill="none" stroke="#cc4c00" stroke-width="1.3"/><circle cx="311.66" cy="484.55" r="5.95" fill="none" stroke="#cc4c00" stroke-width="1.3"/><circle cx="325.1" cy="484.55" r="5.95" fill="none" stroke="#cc4c00" stroke-width="1.3"/><circle cx="338.55" cy="484.55" r="5.95" fill="none" stroke="#cc4c00" stroke-width="1.3"/><circle cx="352" cy="484.55" r="5.95" fill="none" stroke="#cc4c00" stroke-width="1.3"/><circle cx="365.45" cy="484.55" r="5.95" fill="none" stroke="#cc4c00" stroke-width="1.3"/><circle cx="378.9" cy="484.55" r="5.95" fill="none" stroke="#cc4c00" stroke-width="1.3"/><circle cx="392.34" cy="484.55" r="5.95" fill="none" stroke="#cc4c00" stroke-width="1.3"/><circle cx="405.79" cy="484.55" r="5.95" fill="none" stroke="#cc4c00" stroke-width="1.3"/><circle cx="419.24" cy="484.55" r="5.95" fill="none" stroke="#cc4c00" stroke-width="1.3"/><circle cx="432.69" cy="484.55" r="5.95" fill="none" stroke="#cc4c00" stroke-width="1.3"/><circle cx="446.14" cy="484.55" r="5.95" fill="none" stroke="#cc4c00" stroke-width="1.3"/><circle cx="459.58" cy="484.55" r="5.95" fill="none" stroke="#cc4c00" stroke-width="1.3"/><circle cx="473.03" cy="484.55" r="5.95" fill="none" stroke="#cc4c00" stroke-width="1.3"/><circle cx="486.48" cy="484.55" r="5.95" fill="none" stroke="#cc4c00" stroke-width="1.3"/><circle cx="499.93" cy="484.55" r="5.95" fill="none" stroke="#cc4c00" stroke-width="1.3"/><circle cx="513.38" cy="484.55" r="5.95" fill="none" stroke="#cc4c00" stroke-width="1.3"/><circle cx="526.82" cy="484.55" r="5.95" fill="none" stroke="#cc4c00" stroke-width="1.3"/><circle cx="540.27" cy="484.55" r="5.95" fill="none" stroke="#cc4c00" stroke-width="1.3"/><circle cx="553.72" cy="484.55" r="5.95" fill="none" stroke="#cc4c00" stroke-width="1.3"/><circle cx="567.17" cy="484.55" r="5.95" fill="none" stroke="#cc4c00" stroke-width="1.3"/><circle cx="580.62" cy="484.55" r="5.95" fill="none" stroke="#cc4c00" stroke-width="1.3"/><circle cx="594.06" cy="484.55" r="5.95" fill="none" stroke="#cc4c00" stroke-width="1.3"/><circle cx="607.51" cy="484.55" r="5.95" fill="none" stroke="#cc4c00" stroke-width="1.3"/><circle cx="620.96" cy="484.55" r="5.95" fill="none" stroke="#cc4c00" stroke-width="1.3"/><circle cx="634.41" cy="484.55" r="5.95" fill="none" stroke="#cc4c00" stroke-width="1.3"/><circle cx="647.86" cy="484.55" r="5.95" fill="none" stroke="#cc4c00" stroke-width="1.3"/><circle cx="661.3" cy="484.36" r="5.95" fill="none" stroke="#cc4c00" stroke-width="1.3"/><circle cx="674.75" cy="484.07" r="5.95" fill="none" stroke="#cc4c00" stroke-width="1.3"/><circle cx="688.2" cy="483.27" r="5.95" fill="none" stroke="#cc4c00" stroke-width="1.3"/><circle cx="701.65" cy="471.33" r="5.95" fill="none" stroke="#cc4c00" stroke-width="1.3"/><circle cx="715.1" cy="415.34" r="5.95" fill="none" stroke="#cc4c00" stroke-width="1.3"/><circle cx="728.54" cy="262.26" r="5.95" fill="none" stroke="#cc4c00" stroke-width="1.3"/><path d="M197.35 564.74 L210.8 563.82 L224.24 563.53 L237.69 563.46 L251.14 563.46 L264.59 563.46 L278.04 563.46 L291.48 563.46 L304.93 563.46 L318.38 563.46 L331.83 563.46 L345.28 563.46 L358.72 563.46 L372.17 563.46 L385.62 563.46 L399.07 563.46 L412.52 563.46 L425.96 563.46 L439.41 563.46 L452.86 563.46 L466.31 563.46 L479.76 563.46 L493.2 563.46 L506.65 563.46 L520.1 563.46 L533.55 563.46 L547 563.46 L560.44 563.46 L573.89 563.46 L587.34 563.46 L600.79 563.46 L614.24 563.46 L627.68 563.46 L641.13 563.46 L654.58 563.46 L668.03 563.46 L681.48 563.02 L694.92 559.41 L708.37 535.57 L721.82 444.03" fill="none" stroke="#cc4c00" stroke-width="1.3" stroke-linejoin="round"/><circle cx="197.35" cy="564.74" r="5.95" fill="none" stroke="#cc4c00" stroke-width="1.3"/><circle cx="210.8" cy="563.82" r="5.95" fill="none" stroke="#cc4c00" stroke-width="1.3"/><circle cx="224.24" cy="563.53" r="5.95" fill="none" stroke="#cc4c00" stroke-width="1.3"/><circle cx="237.69" cy="563.46" r="5.95" fill="none" stroke="#cc4c00" stroke-width="1.3"/><circle cx="251.14" cy="563.46" r="5.95" fill="none" stroke="#cc4c00" stroke-width="1.3"/><circle cx="264.59" cy="563.46" r="5.95" fill="none" stroke="#cc4c00" stroke-width="1.3"/><circle cx="278.04" cy="563.46" r="5.95" fill="none" stroke="#cc4c00" stroke-width="1.3"/><circle cx="291.48" cy="563.46" r="5.95" fill="none" stroke="#cc4c00" stroke-width="1.3"/><circle cx="304.93" cy="563.46" r="5.95" fill="none" stroke="#cc4c00" stroke-width="1.3"/><circle cx="318.38" cy="563.46" r="5.95" fill="none" stroke="#cc4c00" stroke-width="1.3"/><circle cx="331.83" cy="563.46" r="5.95" fill="none" stroke="#cc4c00" stroke-width="1.3"/><circle cx="345.28" cy="563.46" r="5.95" fill="none" stroke="#cc4c00" stroke-width="1.3"/><circle cx="358.72" cy="563.46" r="5.95" fill="none" stroke="#cc4c00" stroke-width="1.3"/><circle cx="372.17" cy="563.46" r="5.95" fill="none" stroke="#cc4c00" stroke-width="1.3"/><circle cx="385.62" cy="563.46" r="5.95" fill="none" stroke="#cc4c00" stroke-width="1.3"/><circle cx="399.07" cy="563.46" r="5.95" fill="none" stroke="#cc4c00" stroke-width="1.3"/><circle cx="412.52" cy="563.46" r="5.95" fill="none" stroke="#cc4c00" stroke-width="1.3"/><circle cx="425.96" cy="563.46" r="5.95" fill="none" stroke="#cc4c00" stroke-width="1.3"/><circle cx="439.41" cy="563.46" r="5.95" fill="none" stroke="#cc4c00" stroke-width="1.3"/><circle cx="452.86" cy="563.46" r="5.95" fill="none" stroke="#cc4c00" stroke-width="1.3"/><circle cx="466.31" cy="563.46" r="5.95" fill="none" stroke="#cc4c00" stroke-width="1.3"/><circle cx="479.76" cy="563.46" r="5.95" fill="none" stroke="#cc4c00" stroke-width="1.3"/><circle cx="493.2" cy="563.46" r="5.95" fill="none" stroke="#cc4c00" stroke-width="1.3"/><circle cx="506.65" cy="563.46" r="5.95" fill="none" stroke="#cc4c00" stroke-width="1.3"/><circle cx="520.1" cy="563.46" r="5.95" fill="none" stroke="#cc4c00" stroke-width="1.3"/><circle cx="533.55" cy="563.46" r="5.95" fill="none" stroke="#cc4c00" stroke-width="1.3"/><circle cx="547" cy="563.46" r="5.95" fill="none" stroke="#cc4c00" stroke-width="1.3"/><circle cx="560.44" cy="563.46" r="5.95" fill="none" stroke="#cc4c00" stroke-width="1.3"/><circle cx="573.89" cy="563.46" r="5.95" fill="none" stroke="#cc4c00" stroke-width="1.3"/><circle cx="587.34" cy="563.46" r="5.95" fill="none" stroke="#cc4c00" stroke-width="1.3"/><circle cx="600.79" cy="563.46" r="5.95" fill="none" stroke="#cc4c00" stroke-width="1.3"/><circle cx="614.24" cy="563.46" r="5.95" fill="none" stroke="#cc4c00" stroke-width="1.3"/><circle cx="627.68" cy="563.46" r="5.95" fill="none" stroke="#cc4c00" stroke-width="1.3"/><circle cx="641.13" cy="563.46" r="5.95" fill="none" stroke="#cc4c00" stroke-width="1.3"/><circle cx="654.58" cy="563.46" r="5.95" fill="none" stroke="#cc4c00" stroke-width="1.3"/><circle cx="668.03" cy="563.46" r="5.95" fill="none" stroke="#cc4c00" stroke-width="1.3"/><circle cx="681.48" cy="563.02" r="5.95" fill="none" stroke="#cc4c00" stroke-width="1.3"/><circle cx="694.92" cy="559.41" r="5.95" fill="none" stroke="#cc4c00" stroke-width="1.3"/><circle cx="708.37" cy="535.57" r="5.95" fill="none" stroke="#cc4c00" stroke-width="1.3"/><circle cx="721.82" cy="444.03" r="5.95" fill="none" stroke="#cc4c00" stroke-width="1.3"/></g>
<path transform="translate(154.5 75.85)" d="M-22.33 -27.11 L-19.14 -28.71 L-14.36 -33.49 L-14.36 0M-15.95 -31.9 L-15.95 0M-22.33 0 L-7.97 0" fill="none" stroke="#000" stroke-width="1.45" stroke-linecap="round" stroke-linejoin="round"/>
<path transform="translate(154.5 155.3)" d="M-65.39 -33.49 L-70.18 -31.9 L-73.37 -27.11 L-74.97 -19.14 L-74.97 -14.36 L-73.37 -6.38 L-70.18 -1.59 L-65.39 0 L-62.2 0 L-57.42 -1.59 L-54.23 -6.38 L-52.63 -14.36 L-52.63 -19.14 L-54.23 -27.11 L-57.42 -31.9 L-62.2 -33.49 L-65.39 -33.49M-65.39 -33.49 L-68.58 -31.9 L-70.18 -30.3 L-71.78 -27.11 L-73.37 -19.14 L-73.37 -14.36 L-71.78 -6.38 L-70.18 -3.19 L-68.58 -1.59 L-65.39 0M-62.2 0 L-59.02 -1.59 L-57.42 -3.19 L-55.82 -6.38 L-54.23 -14.36 L-54.23 -19.14 L-55.82 -27.11 L-57.42 -30.3 L-59.02 -31.9 L-62.2 -33.49M-23.93 -33.49 L-27.11 -17.54M-27.11 -17.54 L-23.93 -20.73 L-19.14 -22.33 L-14.36 -22.33 L-9.57 -20.73 L-6.38 -17.54 L-4.79 -12.76 L-4.79 -9.57 L-6.38 -4.79 L-9.57 -1.59 L-14.36 0 L-19.14 0 L-23.93 -1.59 L-25.52 -3.19 L-27.11 -6.38 L-27.11 -7.97 L-25.52 -9.57 L-23.93 -7.97 L-25.52 -6.38M-14.36 -22.33 L-11.16 -20.73 L-7.97 -17.54 L-6.38 -12.76 L-6.38 -9.57 L-7.97 -4.79 L-11.16 -1.59 L-14.36 0M-23.93 -33.49 L-7.97 -33.49M-23.93 -31.9 L-15.95 -31.9 L-7.97 -33.49" fill="none" stroke="#000" stroke-width="1.45" stroke-linecap="round" stroke-linejoin="round"/><path transform="translate(154.5 155.3)" d="M-39.88 -3.19 L-41.47 -1.59 L-39.88 0 L-38.28 -1.59 L-39.88 -3.19Z" fill="none" stroke="#000" stroke-width="1.45" stroke-linejoin="round"/>
<path transform="translate(154.5 234.75)" d="M-17.54 -33.49 L-22.33 -31.9 L-25.52 -27.11 L-27.11 -19.14 L-27.11 -14.36 L-25.52 -6.38 L-22.33 -1.59 L-17.54 0 L-14.36 0 L-9.57 -1.59 L-6.38 -6.38 L-4.79 -14.36 L-4.79 -19.14 L-6.38 -27.11 L-9.57 -31.9 L-14.36 -33.49 L-17.54 -33.49M-17.54 -33.49 L-20.73 -31.9 L-22.33 -30.3 L-23.93 -27.11 L-25.52 -19.14 L-25.52 -14.36 L-23.93 -6.38 L-22.33 -3.19 L-20.73 -1.59 L-17.54 0M-14.36 0 L-11.16 -1.59 L-9.57 -3.19 L-7.97 -6.38 L-6.38 -14.36 L-6.38 -19.14 L-7.97 -27.11 L-9.57 -30.3 L-11.16 -31.9 L-14.36 -33.49" fill="none" stroke="#000" stroke-width="1.45" stroke-linecap="round" stroke-linejoin="round"/>
<path transform="translate(154.5 321.35)" d="M-22.33 -27.11 L-19.14 -28.71 L-14.36 -33.49 L-14.36 0M-15.95 -31.9 L-15.95 0M-22.33 0 L-7.97 0" fill="none" stroke="#000" stroke-width="1.45" stroke-linecap="round" stroke-linejoin="round"/>
<path transform="translate(154.5 394.35)" d="M-65.39 -33.49 L-70.18 -31.9 L-73.37 -27.11 L-74.97 -19.14 L-74.97 -14.36 L-73.37 -6.38 L-70.18 -1.59 L-65.39 0 L-62.2 0 L-57.42 -1.59 L-54.23 -6.38 L-52.63 -14.36 L-52.63 -19.14 L-54.23 -27.11 L-57.42 -31.9 L-62.2 -33.49 L-65.39 -33.49M-65.39 -33.49 L-68.58 -31.9 L-70.18 -30.3 L-71.78 -27.11 L-73.37 -19.14 L-73.37 -14.36 L-71.78 -6.38 L-70.18 -3.19 L-68.58 -1.59 L-65.39 0M-62.2 0 L-59.02 -1.59 L-57.42 -3.19 L-55.82 -6.38 L-54.23 -14.36 L-54.23 -19.14 L-55.82 -27.11 L-57.42 -30.3 L-59.02 -31.9 L-62.2 -33.49M-19.14 -33.49 L-23.93 -31.9 L-25.52 -28.71 L-25.52 -23.93 L-23.93 -20.73 L-19.14 -19.14 L-12.76 -19.14 L-7.97 -20.73 L-6.38 -23.93 L-6.38 -28.71 L-7.97 -31.9 L-12.76 -33.49 L-19.14 -33.49M-19.14 -33.49 L-22.33 -31.9 L-23.93 -28.71 L-23.93 -23.93 L-22.33 -20.73 L-19.14 -19.14M-12.76 -19.14 L-9.57 -20.73 L-7.97 -23.93 L-7.97 -28.71 L-9.57 -31.9 L-12.76 -33.49M-19.14 -19.14 L-23.93 -17.54 L-25.52 -15.95 L-27.11 -12.76 L-27.11 -6.38 L-25.52 -3.19 L-23.93 -1.59 L-19.14 0 L-12.76 0 L-7.97 -1.59 L-6.38 -3.19 L-4.79 -6.38 L-4.79 -12.76 L-6.38 -15.95 L-7.97 -17.54 L-12.76 -19.14M-19.14 -19.14 L-22.33 -17.54 L-23.93 -15.95 L-25.52 -12.76 L-25.52 -6.38 L-23.93 -3.19 L-22.33 -1.59 L-19.14 0M-12.76 0 L-9.57 -1.59 L-7.97 -3.19 L-6.38 -6.38 L-6.38 -12.76 L-7.97 -15.95 L-9.57 -17.54 L-12.76 -19.14" fill="none" stroke="#000" stroke-width="1.45" stroke-linecap="round" stroke-linejoin="round"/><path transform="translate(154.5 394.35)" d="M-39.88 -3.19 L-41.47 -1.59 L-39.88 0 L-38.28 -1.59 L-39.88 -3.19Z" fill="none" stroke="#000" stroke-width="1.45" stroke-linejoin="round"/>
<path transform="translate(154.5 467.35)" d="M-65.39 -33.49 L-70.18 -31.9 L-73.37 -27.11 L-74.97 -19.14 L-74.97 -14.36 L-73.37 -6.38 L-70.18 -1.59 L-65.39 0 L-62.2 0 L-57.42 -1.59 L-54.23 -6.38 L-52.63 -14.36 L-52.63 -19.14 L-54.23 -27.11 L-57.42 -31.9 L-62.2 -33.49 L-65.39 -33.49M-65.39 -33.49 L-68.58 -31.9 L-70.18 -30.3 L-71.78 -27.11 L-73.37 -19.14 L-73.37 -14.36 L-71.78 -6.38 L-70.18 -3.19 L-68.58 -1.59 L-65.39 0M-62.2 0 L-59.02 -1.59 L-57.42 -3.19 L-55.82 -6.38 L-54.23 -14.36 L-54.23 -19.14 L-55.82 -27.11 L-57.42 -30.3 L-59.02 -31.9 L-62.2 -33.49M-7.97 -28.71 L-9.57 -27.11 L-7.97 -25.52 L-6.38 -27.11 L-6.38 -28.71 L-7.97 -31.9 L-11.16 -33.49 L-15.95 -33.49 L-20.73 -31.9 L-23.93 -28.71 L-25.52 -25.52 L-27.11 -19.14 L-27.11 -9.57 L-25.52 -4.79 L-22.33 -1.59 L-17.54 0 L-14.36 0 L-9.57 -1.59 L-6.38 -4.79 L-4.79 -9.57 L-4.79 -11.16 L-6.38 -15.95 L-9.57 -19.14 L-14.36 -20.73 L-15.95 -20.73 L-20.73 -19.14 L-23.93 -15.95 L-25.52 -11.16M-15.95 -33.49 L-19.14 -31.9 L-22.33 -28.71 L-23.93 -25.52 L-25.52 -19.14 L-25.52 -9.57 L-23.93 -4.79 L-20.73 -1.59 L-17.54 0M-14.36 0 L-11.16 -1.59 L-7.97 -4.79 L-6.38 -9.57 L-6.38 -11.16 L-7.97 -15.95 L-11.16 -19.14 L-14.36 -20.73" fill="none" stroke="#000" stroke-width="1.45" stroke-linecap="round" stroke-linejoin="round"/><path transform="translate(154.5 467.35)" d="M-39.88 -3.19 L-41.47 -1.59 L-39.88 0 L-38.28 -1.59 L-39.88 -3.19Z" fill="none" stroke="#000" stroke-width="1.45" stroke-linejoin="round"/>
<path transform="translate(154.5 540.35)" d="M-65.39 -33.49 L-70.18 -31.9 L-73.37 -27.11 L-74.97 -19.14 L-74.97 -14.36 L-73.37 -6.38 L-70.18 -1.59 L-65.39 0 L-62.2 0 L-57.42 -1.59 L-54.23 -6.38 L-52.63 -14.36 L-52.63 -19.14 L-54.23 -27.11 L-57.42 -31.9 L-62.2 -33.49 L-65.39 -33.49M-65.39 -33.49 L-68.58 -31.9 L-70.18 -30.3 L-71.78 -27.11 L-73.37 -19.14 L-73.37 -14.36 L-71.78 -6.38 L-70.18 -3.19 L-68.58 -1.59 L-65.39 0M-62.2 0 L-59.02 -1.59 L-57.42 -3.19 L-55.82 -6.38 L-54.23 -14.36 L-54.23 -19.14 L-55.82 -27.11 L-57.42 -30.3 L-59.02 -31.9 L-62.2 -33.49M-12.76 -30.3 L-12.76 0M-11.16 -33.49 L-11.16 0M-11.16 -33.49 L-28.71 -9.57 L-3.19 -9.57M-17.54 0 L-6.38 0" fill="none" stroke="#000" stroke-width="1.45" stroke-linecap="round" stroke-linejoin="round"/><path transform="translate(154.5 540.35)" d="M-39.88 -3.19 L-41.47 -1.59 L-39.88 0 L-38.28 -1.59 L-39.88 -3.19Z" fill="none" stroke="#000" stroke-width="1.45" stroke-linejoin="round"/>
<path transform="translate(154.5 613.35)" d="M-65.39 -33.49 L-70.18 -31.9 L-73.37 -27.11 L-74.97 -19.14 L-74.97 -14.36 L-73.37 -6.38 L-70.18 -1.59 L-65.39 0 L-62.2 0 L-57.42 -1.59 L-54.23 -6.38 L-52.63 -14.36 L-52.63 -19.14 L-54.23 -27.11 L-57.42 -31.9 L-62.2 -33.49 L-65.39 -33.49M-65.39 -33.49 L-68.58 -31.9 L-70.18 -30.3 L-71.78 -27.11 L-73.37 -19.14 L-73.37 -14.36 L-71.78 -6.38 L-70.18 -3.19 L-68.58 -1.59 L-65.39 0M-62.2 0 L-59.02 -1.59 L-57.42 -3.19 L-55.82 -6.38 L-54.23 -14.36 L-54.23 -19.14 L-55.82 -27.11 L-57.42 -30.3 L-59.02 -31.9 L-62.2 -33.49M-25.52 -27.11 L-23.93 -25.52 L-25.52 -23.93 L-27.11 -25.52 L-27.11 -27.11 L-25.52 -30.3 L-23.93 -31.9 L-19.14 -33.49 L-12.76 -33.49 L-7.97 -31.9 L-6.38 -30.3 L-4.79 -27.11 L-4.79 -23.93 L-6.38 -20.73 L-11.16 -17.54 L-19.14 -14.36 L-22.33 -12.76 L-25.52 -9.57 L-27.11 -4.79 L-27.11 0M-12.76 -33.49 L-9.57 -31.9 L-7.97 -30.3 L-6.38 -27.11 L-6.38 -23.93 L-7.97 -20.73 L-12.76 -17.54 L-19.14 -14.36M-27.11 -3.19 L-25.52 -4.79 L-22.33 -4.79 L-14.36 -1.59 L-9.57 -1.59 L-6.38 -3.19 L-4.79 -4.79M-22.33 -4.79 L-14.36 0 L-7.97 0 L-6.38 -1.59 L-4.79 -4.79 L-4.79 -7.97" fill="none" stroke="#000" stroke-width="1.45" stroke-linecap="round" stroke-linejoin="round"/><path transform="translate(154.5 613.35)" d="M-39.88 -3.19 L-41.47 -1.59 L-39.88 0 L-38.28 -1.59 L-39.88 -3.19Z" fill="none" stroke="#000" stroke-width="1.45" stroke-linejoin="round"/>
<path transform="translate(183.9 677.5)" d="M-1.59 -33.49 L-6.38 -31.9 L-9.57 -27.11 L-11.16 -19.14 L-11.16 -14.36 L-9.57 -6.38 L-6.38 -1.59 L-1.59 0 L1.59 0 L6.38 -1.59 L9.57 -6.38 L11.16 -14.36 L11.16 -19.14 L9.57 -27.11 L6.38 -31.9 L1.59 -33.49 L-1.59 -33.49M-1.59 -33.49 L-4.79 -31.9 L-6.38 -30.3 L-7.97 -27.11 L-9.57 -19.14 L-9.57 -14.36 L-7.97 -6.38 L-6.38 -3.19 L-4.79 -1.59 L-1.59 0M1.59 0 L4.79 -1.59 L6.38 -3.19 L7.97 -6.38 L9.57 -14.36 L9.57 -19.14 L7.97 -27.11 L6.38 -30.3 L4.79 -31.9 L1.59 -33.49" fill="none" stroke="#000" stroke-width="1.45" stroke-linecap="round" stroke-linejoin="round"/>
<path transform="translate(318.38 677.5)" d="M-25.52 -27.11 L-23.93 -25.52 L-25.52 -23.93 L-27.11 -25.52 L-27.11 -27.11 L-25.52 -30.3 L-23.93 -31.9 L-19.14 -33.49 L-12.76 -33.49 L-7.97 -31.9 L-6.38 -30.3 L-4.79 -27.11 L-4.79 -23.93 L-6.38 -20.73 L-11.16 -17.54 L-19.14 -14.36 L-22.33 -12.76 L-25.52 -9.57 L-27.11 -4.79 L-27.11 0M-12.76 -33.49 L-9.57 -31.9 L-7.97 -30.3 L-6.38 -27.11 L-6.38 -23.93 L-7.97 -20.73 L-12.76 -17.54 L-19.14 -14.36M-27.11 -3.19 L-25.52 -4.79 L-22.33 -4.79 L-14.36 -1.59 L-9.57 -1.59 L-6.38 -3.19 L-4.79 -4.79M-22.33 -4.79 L-14.36 0 L-7.97 0 L-6.38 -1.59 L-4.79 -4.79 L-4.79 -7.97M14.36 -33.49 L9.57 -31.9 L6.38 -27.11 L4.79 -19.14 L4.79 -14.36 L6.38 -6.38 L9.57 -1.59 L14.36 0 L17.54 0 L22.33 -1.59 L25.52 -6.38 L27.11 -14.36 L27.11 -19.14 L25.52 -27.11 L22.33 -31.9 L17.54 -33.49 L14.36 -33.49M14.36 -33.49 L11.16 -31.9 L9.57 -30.3 L7.97 -27.11 L6.38 -19.14 L6.38 -14.36 L7.97 -6.38 L9.57 -3.19 L11.16 -1.59 L14.36 0M17.54 0 L20.73 -1.59 L22.33 -3.19 L23.93 -6.38 L25.52 -14.36 L25.52 -19.14 L23.93 -27.11 L22.33 -30.3 L20.73 -31.9 L17.54 -33.49" fill="none" stroke="#000" stroke-width="1.45" stroke-linecap="round" stroke-linejoin="round"/>
<path transform="translate(452.86 677.5)" d="M-12.76 -30.3 L-12.76 0M-11.16 -33.49 L-11.16 0M-11.16 -33.49 L-28.71 -9.57 L-3.19 -9.57M-17.54 0 L-6.38 0M14.36 -33.49 L9.57 -31.9 L6.38 -27.11 L4.79 -19.14 L4.79 -14.36 L6.38 -6.38 L9.57 -1.59 L14.36 0 L17.54 0 L22.33 -1.59 L25.52 -6.38 L27.11 -14.36 L27.11 -19.14 L25.52 -27.11 L22.33 -31.9 L17.54 -33.49 L14.36 -33.49M14.36 -33.49 L11.16 -31.9 L9.57 -30.3 L7.97 -27.11 L6.38 -19.14 L6.38 -14.36 L7.97 -6.38 L9.57 -3.19 L11.16 -1.59 L14.36 0M17.54 0 L20.73 -1.59 L22.33 -3.19 L23.93 -6.38 L25.52 -14.36 L25.52 -19.14 L23.93 -27.11 L22.33 -30.3 L20.73 -31.9 L17.54 -33.49" fill="none" stroke="#000" stroke-width="1.45" stroke-linecap="round" stroke-linejoin="round"/>
<path transform="translate(587.34 677.5)" d="M-7.97 -28.71 L-9.57 -27.11 L-7.97 -25.52 L-6.38 -27.11 L-6.38 -28.71 L-7.97 -31.9 L-11.16 -33.49 L-15.95 -33.49 L-20.73 -31.9 L-23.93 -28.71 L-25.52 -25.52 L-27.11 -19.14 L-27.11 -9.57 L-25.52 -4.79 L-22.33 -1.59 L-17.54 0 L-14.36 0 L-9.57 -1.59 L-6.38 -4.79 L-4.79 -9.57 L-4.79 -11.16 L-6.38 -15.95 L-9.57 -19.14 L-14.36 -20.73 L-15.95 -20.73 L-20.73 -19.14 L-23.93 -15.95 L-25.52 -11.16M-15.95 -33.49 L-19.14 -31.9 L-22.33 -28.71 L-23.93 -25.52 L-25.52 -19.14 L-25.52 -9.57 L-23.93 -4.79 L-20.73 -1.59 L-17.54 0M-14.36 0 L-11.16 -1.59 L-7.97 -4.79 L-6.38 -9.57 L-6.38 -11.16 L-7.97 -15.95 L-11.16 -19.14 L-14.36 -20.73M14.36 -33.49 L9.57 -31.9 L6.38 -27.11 L4.79 -19.14 L4.79 -14.36 L6.38 -6.38 L9.57 -1.59 L14.36 0 L17.54 0 L22.33 -1.59 L25.52 -6.38 L27.11 -14.36 L27.11 -19.14 L25.52 -27.11 L22.33 -31.9 L17.54 -33.49 L14.36 -33.49M14.36 -33.49 L11.16 -31.9 L9.57 -30.3 L7.97 -27.11 L6.38 -19.14 L6.38 -14.36 L7.97 -6.38 L9.57 -3.19 L11.16 -1.59 L14.36 0M17.54 0 L20.73 -1.59 L22.33 -3.19 L23.93 -6.38 L25.52 -14.36 L25.52 -19.14 L23.93 -27.11 L22.33 -30.3 L20.73 -31.9 L17.54 -33.49" fill="none" stroke="#000" stroke-width="1.45" stroke-linecap="round" stroke-linejoin="round"/>
<path transform="translate(721.82 677.5)" d="M-19.14 -33.49 L-23.93 -31.9 L-25.52 -28.71 L-25.52 -23.93 L-23.93 -20.73 L-19.14 -19.14 L-12.76 -19.14 L-7.97 -20.73 L-6.38 -23.93 L-6.38 -28.71 L-7.97 -31.9 L-12.76 -33.49 L-19.14 -33.49M-19.14 -33.49 L-22.33 -31.9 L-23.93 -28.71 L-23.93 -23.93 L-22.33 -20.73 L-19.14 -19.14M-12.76 -19.14 L-9.57 -20.73 L-7.97 -23.93 L-7.97 -28.71 L-9.57 -31.9 L-12.76 -33.49M-19.14 -19.14 L-23.93 -17.54 L-25.52 -15.95 L-27.11 -12.76 L-27.11 -6.38 L-25.52 -3.19 L-23.93 -1.59 L-19.14 0 L-12.76 0 L-7.97 -1.59 L-6.38 -3.19 L-4.79 -6.38 L-4.79 -12.76 L-6.38 -15.95 L-7.97 -17.54 L-12.76 -19.14M-19.14 -19.14 L-22.33 -17.54 L-23.93 -15.95 L-25.52 -12.76 L-25.52 -6.38 L-23.93 -3.19 L-22.33 -1.59 L-19.14 0M-12.76 0 L-9.57 -1.59 L-7.97 -3.19 L-6.38 -6.38 L-6.38 -12.76 L-7.97 -15.95 L-9.57 -17.54 L-12.76 -19.14M14.36 -33.49 L9.57 -31.9 L6.38 -27.11 L4.79 -19.14 L4.79 -14.36 L6.38 -6.38 L9.57 -1.59 L14.36 0 L17.54 0 L22.33 -1.59 L25.52 -6.38 L27.11 -14.36 L27.11 -19.14 L25.52 -27.11 L22.33 -31.9 L17.54 -33.49 L14.36 -33.49M14.36 -33.49 L11.16 -31.9 L9.57 -30.3 L7.97 -27.11 L6.38 -19.14 L6.38 -14.36 L7.97 -6.38 L9.57 -3.19 L11.16 -1.59 L14.36 0M17.54 0 L20.73 -1.59 L22.33 -3.19 L23.93 -6.38 L25.52 -14.36 L25.52 -19.14 L23.93 -27.11 L22.33 -30.3 L20.73 -31.9 L17.54 -33.49" fill="none" stroke="#000" stroke-width="1.45" stroke-linecap="round" stroke-linejoin="round"/>
<path transform="translate(470.3 729.8)" d="M-9.57 -22.33 L7.97 0M-7.97 -22.33 L9.57 0M9.57 -22.33 L-9.57 0M-12.76 -22.33 L-3.19 -22.33M3.19 -22.33 L12.76 -22.33M-12.76 0 L-3.19 0M3.19 0 L12.76 0" fill="none" stroke="#000" stroke-width="1.45" stroke-linecap="round" stroke-linejoin="round"/>
<path transform="translate(44 138.5) rotate(-90)" d="M-32.7 -31.9 L-34.29 -30.3 L-35.89 -27.11 L-39.08 -19.14 L-42.27 -9.57 L-43.86 -6.38 L-47.05 -1.59 L-50.24 0M-34.29 -30.3 L-35.89 -25.52 L-39.08 -12.76 L-40.67 -7.97 L-42.27 -4.79 L-45.46 -1.59 L-50.24 0 L-53.43 0 L-55.03 -1.59 L-55.03 -4.79 L-53.43 -6.38 L-51.84 -4.79 L-53.43 -3.19M-42.27 -23.93 L-43.86 -20.73 L-45.46 -19.14 L-48.65 -19.14 L-50.24 -20.73 L-50.24 -23.93 L-48.65 -27.11 L-45.46 -30.3 L-42.27 -31.9 L-37.48 -33.49 L-31.1 -33.49 L-26.32 -31.9 L-24.72 -30.3 L-23.13 -27.11 L-23.13 -22.33 L-24.72 -19.14 L-26.32 -17.54 L-31.1 -15.95 L-34.29 -15.95 L-37.48 -17.54M-31.1 -33.49 L-27.91 -31.9 L-26.32 -30.3 L-24.72 -27.11 L-24.72 -22.33 L-26.32 -19.14 L-27.91 -17.54 L-31.1 -15.95M-2.39 -39.88 L-5.58 -36.69 L-8.77 -31.9 L-11.96 -25.52 L-13.56 -17.54 L-13.56 -11.16 L-11.96 -3.19 L-8.77 3.19 L-5.58 7.97 L-2.39 11.16M-5.58 -36.69 L-8.77 -30.3 L-10.37 -25.52 L-11.96 -17.54 L-11.96 -11.16 L-10.37 -3.19 L-8.77 1.59 L-5.58 7.97M8.77 -22.33 L26.32 0M10.37 -22.33 L27.91 0M27.91 -22.33 L8.77 0M5.58 -22.33 L15.15 -22.33M21.53 -22.33 L31.1 -22.33M5.58 0 L15.15 0M21.53 0 L31.1 0M39.08 -39.88 L42.27 -36.69 L45.46 -31.9 L48.65 -25.52 L50.24 -17.54 L50.24 -11.16 L48.65 -3.19 L45.46 3.19 L42.27 7.97 L39.08 11.16M42.27 -36.69 L45.46 -30.3 L47.05 -25.52 L48.65 -17.54 L48.65 -11.16 L47.05 -3.19 L45.46 1.59 L42.27 7.97" fill="none" stroke="#000" stroke-width="1.45" stroke-linecap="round" stroke-linejoin="round"/>
<path transform="translate(44 424) rotate(-90)" d="M-47.05 -7.97 L-45.46 -3.19 L-43.86 -1.59 L-40.67 0 L-37.48 0 L-32.7 -1.59 L-29.51 -6.38 L-27.91 -11.16 L-27.91 -15.95 L-29.51 -19.14 L-31.1 -20.73 L-34.29 -22.33 L-37.48 -22.33 L-42.27 -20.73 L-45.46 -15.95 L-47.05 -11.16 L-53.43 11.16M-37.48 0 L-34.29 -1.59 L-31.1 -6.38 L-29.51 -11.16 L-29.51 -17.54 L-31.1 -20.73M-37.48 -22.33 L-40.67 -20.73 L-43.86 -15.95 L-45.46 -11.16 L-51.84 11.16M-5.58 -39.88 L-8.77 -36.69 L-11.96 -31.9 L-15.15 -25.52 L-16.75 -17.54 L-16.75 -11.16 L-15.15 -3.19 L-11.96 3.19 L-8.77 7.97 L-5.58 11.16M-8.77 -36.69 L-11.96 -30.3 L-13.56 -25.52 L-15.15 -17.54 L-15.15 -11.16 L-13.56 -3.19 L-11.96 1.59 L-8.77 7.97M5.58 -22.33 L23.13 0M7.18 -22.33 L24.72 0M24.72 -22.33 L5.58 0M2.39 -22.33 L11.96 -22.33M18.34 -22.33 L27.91 -22.33M2.39 0 L11.96 0M18.34 0 L27.91 0M35.89 -39.88 L39.08 -36.69 L42.27 -31.9 L45.46 -25.52 L47.05 -17.54 L47.05 -11.16 L45.46 -3.19 L42.27 3.19 L39.08 7.97 L35.89 11.16M39.08 -36.69 L42.27 -30.3 L43.86 -25.52 L45.46 -17.54 L45.46 -11.16 L43.86 -3.19 L42.27 1.59 L39.08 7.97" fill="none" stroke="#000" stroke-width="1.45" stroke-linecap="round" stroke-linejoin="round"/>
<path transform="translate(486.6 114.5)" d="M14.3 -32.5 L11.7 -29.9 L9.1 -26 L6.5 -20.8 L5.2 -14.3 L5.2 -9.1 L6.5 -2.6 L9.1 2.6 L11.7 6.5 L14.3 9.1M11.7 -29.9 L9.1 -24.7 L7.8 -20.8 L6.5 -14.3 L6.5 -9.1 L7.8 -2.6 L9.1 1.3 L11.7 6.5M25.48 -15.6 L25.48 -14.3 L24.18 -14.3 L24.18 -15.6 L25.48 -16.9 L28.08 -18.2 L33.28 -18.2 L35.88 -16.9 L37.18 -15.6 L38.48 -13 L38.48 -3.9 L39.78 -1.3 L41.08 0M37.18 -15.6 L37.18 -3.9 L38.48 -1.3 L41.08 0 L42.38 0M37.18 -13 L35.88 -11.7 L28.08 -10.4 L24.18 -9.1 L22.88 -6.5 L22.88 -3.9 L24.18 -1.3 L28.08 0 L31.98 0 L34.58 -1.3 L37.18 -3.9M28.08 -10.4 L25.48 -9.1 L24.18 -6.5 L24.18 -3.9 L25.48 -1.3 L28.08 0M49.66 -32.5 L52.26 -29.9 L54.86 -26 L57.46 -20.8 L58.76 -14.3 L58.76 -9.1 L57.46 -2.6 L54.86 2.6 L52.26 6.5 L49.66 9.1M52.26 -29.9 L54.86 -24.7 L56.16 -20.8 L57.46 -14.3 L57.46 -9.1 L56.16 -2.6 L54.86 1.3 L52.26 6.5" fill="none" stroke="#000" stroke-width="1.5" stroke-linecap="round" stroke-linejoin="round"/>
<path transform="translate(486.6 432)" d="M14.3 -32.5 L11.7 -29.9 L9.1 -26 L6.5 -20.8 L5.2 -14.3 L5.2 -9.1 L6.5 -2.6 L9.1 2.6 L11.7 6.5 L14.3 9.1M11.7 -29.9 L9.1 -24.7 L7.8 -20.8 L6.5 -14.3 L6.5 -9.1 L7.8 -2.6 L9.1 1.3 L11.7 6.5M25.48 -27.3 L25.48 0M26.78 -27.3 L26.78 0M26.78 -14.3 L29.38 -16.9 L31.98 -18.2 L34.58 -18.2 L38.48 -16.9 L41.08 -14.3 L42.38 -10.4 L42.38 -7.8 L41.08 -3.9 L38.48 -1.3 L34.58 0 L31.98 0 L29.38 -1.3 L26.78 -3.9M34.58 -18.2 L37.18 -16.9 L39.78 -14.3 L41.08 -10.4 L41.08 -7.8 L39.78 -3.9 L37.18 -1.3 L34.58 0M21.58 -27.3 L26.78 -27.3M50.96 -32.5 L53.56 -29.9 L56.16 -26 L58.76 -20.8 L60.06 -14.3 L60.06 -9.1 L58.76 -2.6 L56.16 2.6 L53.56 6.5 L50.96 9.1M53.56 -29.9 L56.16 -24.7 L57.46 -20.8 L58.76 -14.3 L58.76 -9.1 L57.46 -2.6 L56.16 1.3 L53.56 6.5" fill="none" stroke="#000" stroke-width="1.5" stroke-linecap="round" stroke-linejoin="round"/>
<path transform="translate(419.6 341)" d="M16 -22.4 L11.2 -20.8 L8 -17.6 L6.4 -14.4 L4.8 -9.6 L4.8 -4.8 L6.4 -1.6 L11.2 0 L14.4 0 L17.6 -1.6 L22.4 -6.4 L25.6 -11.2 L28.8 -17.6 L30.4 -22.4M16 -22.4 L12.8 -20.8 L9.6 -17.6 L8 -14.4 L6.4 -9.6 L6.4 -4.8 L8 -1.6 L11.2 0M16 -22.4 L19.2 -22.4 L22.4 -20.8 L24 -17.6 L27.2 -4.8 L28.8 -1.6 L30.4 0M19.2 -22.4 L20.8 -20.8 L22.4 -17.6 L25.6 -4.8 L27.2 -1.6 L30.4 0 L32 0M44 -18.88 L71.2 -18.88M44 -9.44 L71.2 -9.44M99.2 -33.6 L94.4 -32 L91.2 -28.8 L88 -22.4 L86.4 -17.6 L84.8 -11.2 L83.2 -1.6 L81.6 11.2M99.2 -33.6 L96 -32 L92.8 -28.8 L89.6 -22.4 L88 -17.6 L86.4 -11.2 L84.8 -1.6 L83.2 11.2M99.2 -33.6 L102.4 -33.6 L105.6 -32 L107.2 -30.4 L107.2 -25.6 L105.6 -22.4 L104 -20.8 L99.2 -19.2 L92.8 -19.2M102.4 -33.6 L105.6 -30.4 L105.6 -25.6 L104 -22.4 L102.4 -20.8 L99.2 -19.2M92.8 -19.2 L99.2 -17.6 L102.4 -14.4 L104 -11.2 L104 -6.4 L102.4 -3.2 L100.8 -1.6 L96 0 L92.8 0 L89.6 -1.6 L88 -3.2 L86.4 -8M92.8 -19.2 L97.6 -17.6 L100.8 -14.4 L102.4 -11.2 L102.4 -6.4 L100.8 -3.2 L99.2 -1.6 L96 0M119.2 -18.88 L146.4 -18.88M119.2 -9.44 L146.4 -9.44M163.2 -27.2 L166.4 -28.8 L171.2 -33.6 L171.2 0M169.6 -32 L169.6 0M163.2 0 L177.6 0M217.6 -40 L188.8 11.2M227.2 -27.2 L228.8 -25.6 L227.2 -24 L225.6 -25.6 L225.6 -27.2 L227.2 -30.4 L228.8 -32 L233.6 -33.6 L240 -33.6 L244.8 -32 L246.4 -30.4 L248 -27.2 L248 -24 L246.4 -20.8 L241.6 -17.6 L233.6 -14.4 L230.4 -12.8 L227.2 -9.6 L225.6 -4.8 L225.6 0M240 -33.6 L243.2 -32 L244.8 -30.4 L246.4 -27.2 L246.4 -24 L244.8 -20.8 L240 -17.6 L233.6 -14.4M225.6 -3.2 L227.2 -4.8 L230.4 -4.8 L238.4 -1.6 L243.2 -1.6 L246.4 -3.2 L248 -4.8M230.4 -4.8 L238.4 0 L244.8 0 L246.4 -1.6 L248 -4.8 L248 -8" fill="none" stroke="#000" stroke-width="1.5" stroke-linecap="round" stroke-linejoin="round"/>
<path d="M594.9 85.1 L606.3 96.5 M594.9 96.5 L606.3 85.1" fill="none" stroke="#ff0000" stroke-width="1.3"/>
<path d="M600.6 131.2 L607.01 142.3 L594.19 142.3 Z" fill="none" stroke="#0000ff" stroke-width="1.3" stroke-linejoin="miter"/>
<path transform="translate(621.4 98.6)" d="M11.44 -26 L9.36 -23.92 L7.28 -20.8 L5.2 -16.64 L4.16 -11.44 L4.16 -7.28 L5.2 -2.08 L7.28 2.08 L9.36 5.2 L11.44 7.28M9.36 -23.92 L7.28 -19.76 L6.24 -16.64 L5.2 -11.44 L5.2 -7.28 L6.24 -2.08 L7.28 1.04 L9.36 5.2M25.3 -21.84 L18.02 0M25.3 -21.84 L32.58 0M25.3 -18.72 L31.54 0M20.1 -6.24 L29.46 -6.24M15.94 0 L22.18 0M28.42 0 L34.66 0M39.17 -26 L41.25 -23.92 L43.33 -20.8 L45.41 -16.64 L46.45 -11.44 L46.45 -7.28 L45.41 -2.08 L43.33 2.08 L41.25 5.2 L39.17 7.28M41.25 -23.92 L43.33 -19.76 L44.37 -16.64 L45.41 -11.44 L45.41 -7.28 L44.37 -2.08 L43.33 1.04 L41.25 5.2" fill="none" stroke="#000" stroke-width="1.3" stroke-linecap="round" stroke-linejoin="round"/>
<path transform="translate(621.4 146.4)" d="M11.44 -26 L9.36 -23.92 L7.28 -20.8 L5.2 -16.64 L4.16 -11.44 L4.16 -7.28 L5.2 -2.08 L7.28 2.08 L9.36 5.2 L11.44 7.28M9.36 -23.92 L7.28 -19.76 L6.24 -16.64 L5.2 -11.44 L5.2 -7.28 L6.24 -2.08 L7.28 1.04 L9.36 5.2M20.1 -21.84 L20.1 0M21.14 -21.84 L21.14 0M16.98 -21.84 L29.46 -21.84 L32.58 -20.8 L33.62 -19.76 L34.66 -17.68 L34.66 -15.6 L33.62 -13.52 L32.58 -12.48 L29.46 -11.44M29.46 -21.84 L31.54 -20.8 L32.58 -19.76 L33.62 -17.68 L33.62 -15.6 L32.58 -13.52 L31.54 -12.48 L29.46 -11.44M21.14 -11.44 L29.46 -11.44 L32.58 -10.4 L33.62 -9.36 L34.66 -7.28 L34.66 -4.16 L33.62 -2.08 L32.58 -1.04 L29.46 0 L16.98 0M29.46 -11.44 L31.54 -10.4 L32.58 -9.36 L33.62 -7.28 L33.62 -4.16 L32.58 -2.08 L31.54 -1.04 L29.46 0M44.37 -1.04 L43.33 0 L42.29 -1.04 L43.33 -2.08 L44.37 -1.04 L44.37 1.04 L43.33 3.12 L42.29 4.16M55.11 -17.68 L57.19 -18.72 L60.31 -21.84 L60.31 0M59.27 -20.8 L59.27 0M55.11 0 L64.47 0M73.13 -26 L75.21 -23.92 L77.29 -20.8 L79.37 -16.64 L80.41 -11.44 L80.41 -7.28 L79.37 -2.08 L77.29 2.08 L75.21 5.2 L73.13 7.28M75.21 -23.92 L77.29 -19.76 L78.33 -16.64 L79.37 -11.44 L79.37 -7.28 L78.33 -2.08 L77.29 1.04 L75.21 5.2" fill="none" stroke="#000" stroke-width="1.3" stroke-linecap="round" stroke-linejoin="round"/>
<path d="M226.55 326 L235.55 335 M226.55 335 L235.55 326" fill="none" stroke="#ff0000" stroke-width="1.3"/>
<path d="M231.05 379.15 L236.29 388.22 L225.81 388.22 Z" fill="none" stroke="#0000ff" stroke-width="1.3" stroke-linejoin="miter"/>
<circle cx="231.05" cy="440" r="6.25" fill="none" stroke="#cc4c00" stroke-width="1.3"/>
<path transform="translate(251.8 341.1)" d="M11.44 -26 L9.36 -23.92 L7.28 -20.8 L5.2 -16.64 L4.16 -11.44 L4.16 -7.28 L5.2 -2.08 L7.28 2.08 L9.36 5.2 L11.44 7.28M9.36 -23.92 L7.28 -19.76 L6.24 -16.64 L5.2 -11.44 L5.2 -7.28 L6.24 -2.08 L7.28 1.04 L9.36 5.2M25.3 -21.84 L18.02 0M25.3 -21.84 L32.58 0M25.3 -18.72 L31.54 0M20.1 -6.24 L29.46 -6.24M15.94 0 L22.18 0M28.42 0 L34.66 0M39.17 -26 L41.25 -23.92 L43.33 -20.8 L45.41 -16.64 L46.45 -11.44 L46.45 -7.28 L45.41 -2.08 L43.33 2.08 L41.25 5.2 L39.17 7.28M41.25 -23.92 L43.33 -19.76 L44.37 -16.64 L45.41 -11.44 L45.41 -7.28 L44.37 -2.08 L43.33 1.04 L41.25 5.2" fill="none" stroke="#000" stroke-width="1.3" stroke-linecap="round" stroke-linejoin="round"/>
<path transform="translate(251.8 395.8)" d="M11.44 -26 L9.36 -23.92 L7.28 -20.8 L5.2 -16.64 L4.16 -11.44 L4.16 -7.28 L5.2 -2.08 L7.28 2.08 L9.36 5.2 L11.44 7.28M9.36 -23.92 L7.28 -19.76 L6.24 -16.64 L5.2 -11.44 L5.2 -7.28 L6.24 -2.08 L7.28 1.04 L9.36 5.2M20.1 -21.84 L20.1 0M21.14 -21.84 L21.14 0M16.98 -21.84 L29.46 -21.84 L32.58 -20.8 L33.62 -19.76 L34.66 -17.68 L34.66 -15.6 L33.62 -13.52 L32.58 -12.48 L29.46 -11.44M29.46 -21.84 L31.54 -20.8 L32.58 -19.76 L33.62 -17.68 L33.62 -15.6 L32.58 -13.52 L31.54 -12.48 L29.46 -11.44M21.14 -11.44 L29.46 -11.44 L32.58 -10.4 L33.62 -9.36 L34.66 -7.28 L34.66 -4.16 L33.62 -2.08 L32.58 -1.04 L29.46 0 L16.98 0M29.46 -11.44 L31.54 -10.4 L32.58 -9.36 L33.62 -7.28 L33.62 -4.16 L32.58 -2.08 L31.54 -1.04 L29.46 0M44.37 -1.04 L43.33 0 L42.29 -1.04 L43.33 -2.08 L44.37 -1.04 L44.37 1.04 L43.33 3.12 L42.29 4.16M55.11 -17.68 L57.19 -18.72 L60.31 -21.84 L60.31 0M59.27 -20.8 L59.27 0M55.11 0 L64.47 0M73.13 -26 L75.21 -23.92 L77.29 -20.8 L79.37 -16.64 L80.41 -11.44 L80.41 -7.28 L79.37 -2.08 L77.29 2.08 L75.21 5.2 L73.13 7.28M75.21 -23.92 L77.29 -19.76 L78.33 -16.64 L79.37 -11.44 L79.37 -7.28 L78.33 -2.08 L77.29 1.04 L75.21 5.2" fill="none" stroke="#000" stroke-width="1.3" stroke-linecap="round" stroke-linejoin="round"/>
<path transform="translate(251.8 450.6)" d="M11.44 -26 L9.36 -23.92 L7.28 -20.8 L5.2 -16.64 L4.16 -11.44 L4.16 -7.28 L5.2 -2.08 L7.28 2.08 L9.36 5.2 L11.44 7.28M9.36 -23.92 L7.28 -19.76 L6.24 -16.64 L5.2 -11.44 L5.2 -7.28 L6.24 -2.08 L7.28 1.04 L9.36 5.2M20.1 -21.84 L20.1 0M21.14 -21.84 L21.14 0M16.98 -21.84 L29.46 -21.84 L32.58 -20.8 L33.62 -19.76 L34.66 -17.68 L34.66 -15.6 L33.62 -13.52 L32.58 -12.48 L29.46 -11.44M29.46 -21.84 L31.54 -20.8 L32.58 -19.76 L33.62 -17.68 L33.62 -15.6 L32.58 -13.52 L31.54 -12.48 L29.46 -11.44M21.14 -11.44 L29.46 -11.44 L32.58 -10.4 L33.62 -9.36 L34.66 -7.28 L34.66 -4.16 L33.62 -2.08 L32.58 -1.04 L29.46 0 L16.98 0M29.46 -11.44 L31.54 -10.4 L32.58 -9.36 L33.62 -7.28 L33.62 -4.16 L32.58 -2.08 L31.54 -1.04 L29.46 0M44.37 -1.04 L43.33 0 L42.29 -1.04 L43.33 -2.08 L44.37 -1.04 L44.37 1.04 L43.33 3.12 L42.29 4.16M58.23 -21.84 L55.11 -20.8 L53.03 -17.68 L51.99 -12.48 L51.99 -9.36 L53.03 -4.16 L55.11 -1.04 L58.23 0 L60.31 0 L63.43 -1.04 L65.51 -4.16 L66.55 -9.36 L66.55 -12.48 L65.51 -17.68 L63.43 -20.8 L60.31 -21.84 L58.23 -21.84M58.23 -21.84 L56.15 -20.8 L55.11 -19.76 L54.07 -17.68 L53.03 -12.48 L53.03 -9.36 L54.07 -4.16 L55.11 -2.08 L56.15 -1.04 L58.23 0M60.31 0 L62.39 -1.04 L63.43 -2.08 L64.47 -4.16 L65.51 -9.36 L65.51 -12.48 L64.47 -17.68 L63.43 -19.76 L62.39 -20.8 L60.31 -21.84M73.13 -26 L75.21 -23.92 L77.29 -20.8 L79.37 -16.64 L80.41 -11.44 L80.41 -7.28 L79.37 -2.08 L77.29 2.08 L75.21 5.2 L73.13 7.28M75.21 -23.92 L77.29 -19.76 L78.33 -16.64 L79.37 -11.44 L79.37 -7.28 L78.33 -2.08 L77.29 1.04 L75.21 5.2" fill="none" stroke="#000" stroke-width="1.3" stroke-linecap="round" stroke-linejoin="round"/>
</svg>
</body></html>
